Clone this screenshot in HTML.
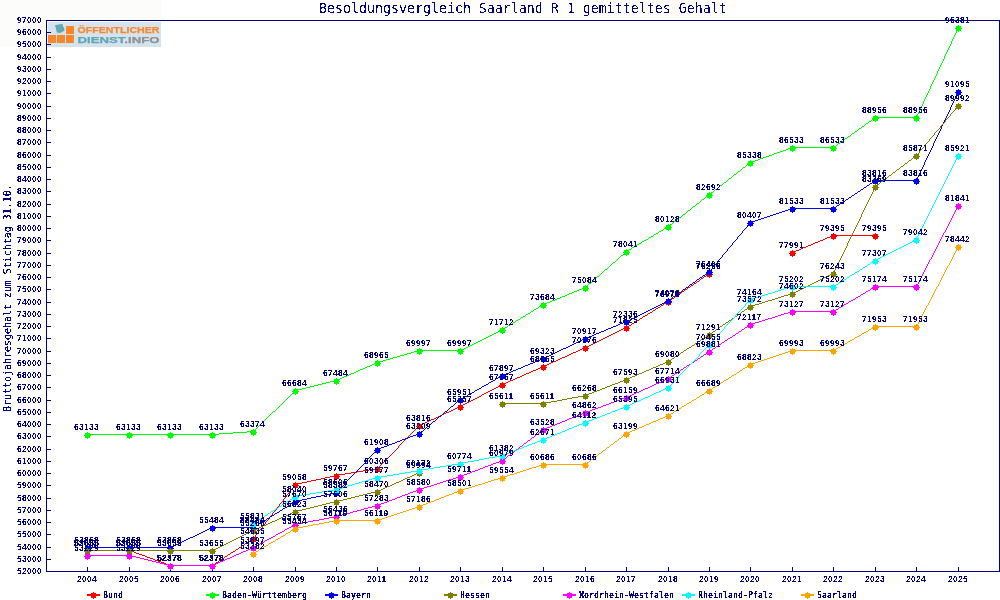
<!DOCTYPE html>
<html lang="de"><head><meta charset="utf-8"><title>Besoldungsvergleich Saarland R 1 gemitteltes Gehalt</title>
<style>html,body{margin:0;padding:0;background:#fff;overflow:hidden}svg{display:block}text{white-space:pre}</style></head><body>
<svg width="1000" height="600" viewBox="0 0 1000 600">
<rect width="1000" height="600" fill="#fff"/>
<defs><filter id="crisp" filterUnits="userSpaceOnUse" x="0" y="0" width="1000" height="600" color-interpolation-filters="sRGB"><feComponentTransfer><feFuncA type="discrete" tableValues="0 1"/></feComponentTransfer></filter><filter id="crisp3" filterUnits="userSpaceOnUse" x="0" y="0" width="1000" height="600" color-interpolation-filters="sRGB"><feComponentTransfer><feFuncA type="discrete" tableValues="0 0 0 1 1"/></feComponentTransfer></filter><filter id="crisp2" filterUnits="userSpaceOnUse" x="0" y="0" width="1000" height="600" color-interpolation-filters="sRGB"><feComponentTransfer><feFuncA type="discrete" tableValues="0 0 1 1 1"/></feComponentTransfer></filter></defs>
<g id="logo">
<rect x="0" y="0" width="161" height="47" fill="#fcfcfb"/>
<rect x="48" y="22" width="113" height="25" fill="#d5e3ec"/>
<g fill="#fb862a"><rect x="48" y="35" width="8" height="8"/><rect x="57" y="35" width="8" height="8"/><rect x="66" y="35" width="8" height="8"/><rect x="66" y="26" width="8" height="8"/></g>
<path d="M54.9 25.2L62.5 23.7L63.1 26.9L64 27.2L64.6 30.6L60.3 32.9L56.8 32.4L55.8 27.8z" fill="#62a8b2"/>
<text x="77.5" y="33.4" font-family='"Liberation Sans","DejaVu Sans",sans-serif' font-weight="bold" font-size="9.9" fill="#fb862a" stroke="#fb862a" stroke-width="0.25" textLength="82" lengthAdjust="spacingAndGlyphs">ÖFFENTLICHER</text>
<text x="77.5" y="43.2" font-family='"Liberation Sans","DejaVu Sans",sans-serif' font-weight="bold" font-size="9.9" stroke-width="0.25" textLength="82" lengthAdjust="spacingAndGlyphs"><tspan fill="#62a6b2" stroke="#62a6b2">DIENST</tspan><tspan fill="#8e9097" stroke="#8e9097">.INFO</tspan></text>
</g>
<g shape-rendering="crispEdges" fill="#000080">
<rect x="46" y="20" width="954" height="1"/>
<rect x="46" y="571" width="954" height="1"/>
<rect x="46" y="20" width="1" height="552"/>
<rect x="999" y="20" width="1" height="552"/>
<rect x="47" y="571" width="4" height="1"/>
<rect x="47" y="559" width="4" height="1"/>
<rect x="47" y="547" width="4" height="1"/>
<rect x="47" y="534" width="4" height="1"/>
<rect x="47" y="522" width="4" height="1"/>
<rect x="47" y="510" width="4" height="1"/>
<rect x="47" y="498" width="4" height="1"/>
<rect x="47" y="485" width="4" height="1"/>
<rect x="47" y="473" width="4" height="1"/>
<rect x="47" y="461" width="4" height="1"/>
<rect x="47" y="449" width="4" height="1"/>
<rect x="47" y="436" width="4" height="1"/>
<rect x="47" y="424" width="4" height="1"/>
<rect x="47" y="412" width="4" height="1"/>
<rect x="47" y="400" width="4" height="1"/>
<rect x="47" y="387" width="4" height="1"/>
<rect x="47" y="375" width="4" height="1"/>
<rect x="47" y="363" width="4" height="1"/>
<rect x="47" y="351" width="4" height="1"/>
<rect x="47" y="338" width="4" height="1"/>
<rect x="47" y="326" width="4" height="1"/>
<rect x="47" y="314" width="4" height="1"/>
<rect x="47" y="302" width="4" height="1"/>
<rect x="47" y="289" width="4" height="1"/>
<rect x="47" y="277" width="4" height="1"/>
<rect x="47" y="265" width="4" height="1"/>
<rect x="47" y="253" width="4" height="1"/>
<rect x="47" y="240" width="4" height="1"/>
<rect x="47" y="228" width="4" height="1"/>
<rect x="47" y="216" width="4" height="1"/>
<rect x="47" y="204" width="4" height="1"/>
<rect x="47" y="191" width="4" height="1"/>
<rect x="47" y="179" width="4" height="1"/>
<rect x="47" y="167" width="4" height="1"/>
<rect x="47" y="155" width="4" height="1"/>
<rect x="47" y="142" width="4" height="1"/>
<rect x="47" y="130" width="4" height="1"/>
<rect x="47" y="118" width="4" height="1"/>
<rect x="47" y="106" width="4" height="1"/>
<rect x="47" y="93" width="4" height="1"/>
<rect x="47" y="81" width="4" height="1"/>
<rect x="47" y="69" width="4" height="1"/>
<rect x="47" y="57" width="4" height="1"/>
<rect x="47" y="44" width="4" height="1"/>
<rect x="47" y="32" width="4" height="1"/>
<rect x="47" y="20" width="4" height="1"/>
<rect x="87" y="567" width="1" height="4"/>
<rect x="129" y="567" width="1" height="4"/>
<rect x="170" y="567" width="1" height="4"/>
<rect x="212" y="567" width="1" height="4"/>
<rect x="253" y="567" width="1" height="4"/>
<rect x="295" y="567" width="1" height="4"/>
<rect x="336" y="567" width="1" height="4"/>
<rect x="377" y="567" width="1" height="4"/>
<rect x="419" y="567" width="1" height="4"/>
<rect x="460" y="567" width="1" height="4"/>
<rect x="502" y="567" width="1" height="4"/>
<rect x="543" y="567" width="1" height="4"/>
<rect x="585" y="567" width="1" height="4"/>
<rect x="626" y="567" width="1" height="4"/>
<rect x="668" y="567" width="1" height="4"/>
<rect x="709" y="567" width="1" height="4"/>
<rect x="750" y="567" width="1" height="4"/>
<rect x="792" y="567" width="1" height="4"/>
<rect x="833" y="567" width="1" height="4"/>
<rect x="875" y="567" width="1" height="4"/>
<rect x="916" y="567" width="1" height="4"/>
<rect x="958" y="567" width="1" height="4"/>
</g>
<g id="ylabels" filter="url(#crisp)">
<text transform="translate(17 574) scale(1 1)" font-family='"Liberation Sans","DejaVu Sans",sans-serif' font-size="8.4" font-weight="bold" fill="#000080" letter-spacing="0.33">52000</text>
<text transform="translate(17 562) scale(1 1)" font-family='"Liberation Sans","DejaVu Sans",sans-serif' font-size="8.4" font-weight="bold" fill="#000080" letter-spacing="0.33">53000</text>
<text transform="translate(17 550) scale(1 1)" font-family='"Liberation Sans","DejaVu Sans",sans-serif' font-size="8.4" font-weight="bold" fill="#000080" letter-spacing="0.33">54000</text>
<text transform="translate(17 537) scale(1 1)" font-family='"Liberation Sans","DejaVu Sans",sans-serif' font-size="8.4" font-weight="bold" fill="#000080" letter-spacing="0.33">55000</text>
<text transform="translate(17 525) scale(1 1)" font-family='"Liberation Sans","DejaVu Sans",sans-serif' font-size="8.4" font-weight="bold" fill="#000080" letter-spacing="0.33">56000</text>
<text transform="translate(17 513) scale(1 1)" font-family='"Liberation Sans","DejaVu Sans",sans-serif' font-size="8.4" font-weight="bold" fill="#000080" letter-spacing="0.33">57000</text>
<text transform="translate(17 501) scale(1 1)" font-family='"Liberation Sans","DejaVu Sans",sans-serif' font-size="8.4" font-weight="bold" fill="#000080" letter-spacing="0.33">58000</text>
<text transform="translate(17 488) scale(1 1)" font-family='"Liberation Sans","DejaVu Sans",sans-serif' font-size="8.4" font-weight="bold" fill="#000080" letter-spacing="0.33">59000</text>
<text transform="translate(17 476) scale(1 1)" font-family='"Liberation Sans","DejaVu Sans",sans-serif' font-size="8.4" font-weight="bold" fill="#000080" letter-spacing="0.33">60000</text>
<text transform="translate(17 464) scale(1 1)" font-family='"Liberation Sans","DejaVu Sans",sans-serif' font-size="8.4" font-weight="bold" fill="#000080" letter-spacing="0.33">61000</text>
<text transform="translate(17 452) scale(1 1)" font-family='"Liberation Sans","DejaVu Sans",sans-serif' font-size="8.4" font-weight="bold" fill="#000080" letter-spacing="0.33">62000</text>
<text transform="translate(17 439) scale(1 1)" font-family='"Liberation Sans","DejaVu Sans",sans-serif' font-size="8.4" font-weight="bold" fill="#000080" letter-spacing="0.33">63000</text>
<text transform="translate(17 427) scale(1 1)" font-family='"Liberation Sans","DejaVu Sans",sans-serif' font-size="8.4" font-weight="bold" fill="#000080" letter-spacing="0.33">64000</text>
<text transform="translate(17 415) scale(1 1)" font-family='"Liberation Sans","DejaVu Sans",sans-serif' font-size="8.4" font-weight="bold" fill="#000080" letter-spacing="0.33">65000</text>
<text transform="translate(17 403) scale(1 1)" font-family='"Liberation Sans","DejaVu Sans",sans-serif' font-size="8.4" font-weight="bold" fill="#000080" letter-spacing="0.33">66000</text>
<text transform="translate(17 390) scale(1 1)" font-family='"Liberation Sans","DejaVu Sans",sans-serif' font-size="8.4" font-weight="bold" fill="#000080" letter-spacing="0.33">67000</text>
<text transform="translate(17 378) scale(1 1)" font-family='"Liberation Sans","DejaVu Sans",sans-serif' font-size="8.4" font-weight="bold" fill="#000080" letter-spacing="0.33">68000</text>
<text transform="translate(17 366) scale(1 1)" font-family='"Liberation Sans","DejaVu Sans",sans-serif' font-size="8.4" font-weight="bold" fill="#000080" letter-spacing="0.33">69000</text>
<text transform="translate(17 354) scale(1 1)" font-family='"Liberation Sans","DejaVu Sans",sans-serif' font-size="8.4" font-weight="bold" fill="#000080" letter-spacing="0.33">70000</text>
<text transform="translate(17 341) scale(1 1)" font-family='"Liberation Sans","DejaVu Sans",sans-serif' font-size="8.4" font-weight="bold" fill="#000080" letter-spacing="0.33">71000</text>
<text transform="translate(17 329) scale(1 1)" font-family='"Liberation Sans","DejaVu Sans",sans-serif' font-size="8.4" font-weight="bold" fill="#000080" letter-spacing="0.33">72000</text>
<text transform="translate(17 317) scale(1 1)" font-family='"Liberation Sans","DejaVu Sans",sans-serif' font-size="8.4" font-weight="bold" fill="#000080" letter-spacing="0.33">73000</text>
<text transform="translate(17 305) scale(1 1)" font-family='"Liberation Sans","DejaVu Sans",sans-serif' font-size="8.4" font-weight="bold" fill="#000080" letter-spacing="0.33">74000</text>
<text transform="translate(17 292) scale(1 1)" font-family='"Liberation Sans","DejaVu Sans",sans-serif' font-size="8.4" font-weight="bold" fill="#000080" letter-spacing="0.33">75000</text>
<text transform="translate(17 280) scale(1 1)" font-family='"Liberation Sans","DejaVu Sans",sans-serif' font-size="8.4" font-weight="bold" fill="#000080" letter-spacing="0.33">76000</text>
<text transform="translate(17 268) scale(1 1)" font-family='"Liberation Sans","DejaVu Sans",sans-serif' font-size="8.4" font-weight="bold" fill="#000080" letter-spacing="0.33">77000</text>
<text transform="translate(17 256) scale(1 1)" font-family='"Liberation Sans","DejaVu Sans",sans-serif' font-size="8.4" font-weight="bold" fill="#000080" letter-spacing="0.33">78000</text>
<text transform="translate(17 243) scale(1 1)" font-family='"Liberation Sans","DejaVu Sans",sans-serif' font-size="8.4" font-weight="bold" fill="#000080" letter-spacing="0.33">79000</text>
<text transform="translate(17 231) scale(1 1)" font-family='"Liberation Sans","DejaVu Sans",sans-serif' font-size="8.4" font-weight="bold" fill="#000080" letter-spacing="0.33">80000</text>
<text transform="translate(17 219) scale(1 1)" font-family='"Liberation Sans","DejaVu Sans",sans-serif' font-size="8.4" font-weight="bold" fill="#000080" letter-spacing="0.33">81000</text>
<text transform="translate(17 207) scale(1 1)" font-family='"Liberation Sans","DejaVu Sans",sans-serif' font-size="8.4" font-weight="bold" fill="#000080" letter-spacing="0.33">82000</text>
<text transform="translate(17 194) scale(1 1)" font-family='"Liberation Sans","DejaVu Sans",sans-serif' font-size="8.4" font-weight="bold" fill="#000080" letter-spacing="0.33">83000</text>
<text transform="translate(17 182) scale(1 1)" font-family='"Liberation Sans","DejaVu Sans",sans-serif' font-size="8.4" font-weight="bold" fill="#000080" letter-spacing="0.33">84000</text>
<text transform="translate(17 170) scale(1 1)" font-family='"Liberation Sans","DejaVu Sans",sans-serif' font-size="8.4" font-weight="bold" fill="#000080" letter-spacing="0.33">85000</text>
<text transform="translate(17 158) scale(1 1)" font-family='"Liberation Sans","DejaVu Sans",sans-serif' font-size="8.4" font-weight="bold" fill="#000080" letter-spacing="0.33">86000</text>
<text transform="translate(17 145) scale(1 1)" font-family='"Liberation Sans","DejaVu Sans",sans-serif' font-size="8.4" font-weight="bold" fill="#000080" letter-spacing="0.33">87000</text>
<text transform="translate(17 133) scale(1 1)" font-family='"Liberation Sans","DejaVu Sans",sans-serif' font-size="8.4" font-weight="bold" fill="#000080" letter-spacing="0.33">88000</text>
<text transform="translate(17 121) scale(1 1)" font-family='"Liberation Sans","DejaVu Sans",sans-serif' font-size="8.4" font-weight="bold" fill="#000080" letter-spacing="0.33">89000</text>
<text transform="translate(17 109) scale(1 1)" font-family='"Liberation Sans","DejaVu Sans",sans-serif' font-size="8.4" font-weight="bold" fill="#000080" letter-spacing="0.33">90000</text>
<text transform="translate(17 96) scale(1 1)" font-family='"Liberation Sans","DejaVu Sans",sans-serif' font-size="8.4" font-weight="bold" fill="#000080" letter-spacing="0.33">91000</text>
<text transform="translate(17 84) scale(1 1)" font-family='"Liberation Sans","DejaVu Sans",sans-serif' font-size="8.4" font-weight="bold" fill="#000080" letter-spacing="0.33">92000</text>
<text transform="translate(17 72) scale(1 1)" font-family='"Liberation Sans","DejaVu Sans",sans-serif' font-size="8.4" font-weight="bold" fill="#000080" letter-spacing="0.33">93000</text>
<text transform="translate(17 60) scale(1 1)" font-family='"Liberation Sans","DejaVu Sans",sans-serif' font-size="8.4" font-weight="bold" fill="#000080" letter-spacing="0.33">94000</text>
<text transform="translate(17 47) scale(1 1)" font-family='"Liberation Sans","DejaVu Sans",sans-serif' font-size="8.4" font-weight="bold" fill="#000080" letter-spacing="0.33">95000</text>
<text transform="translate(17 35) scale(1 1)" font-family='"Liberation Sans","DejaVu Sans",sans-serif' font-size="8.4" font-weight="bold" fill="#000080" letter-spacing="0.33">96000</text>
<text transform="translate(17 23) scale(1 1)" font-family='"Liberation Sans","DejaVu Sans",sans-serif' font-size="8.4" font-weight="bold" fill="#000080" letter-spacing="0.33">97000</text>
</g><g id="xlabels" filter="url(#crisp)">
<text transform="translate(77 582) scale(1 1)" font-family='"Liberation Sans","DejaVu Sans",sans-serif' font-size="8.4" font-weight="bold" fill="#000080" letter-spacing="0.33">2004</text>
<text transform="translate(119 582) scale(1 1)" font-family='"Liberation Sans","DejaVu Sans",sans-serif' font-size="8.4" font-weight="bold" fill="#000080" letter-spacing="0.33">2005</text>
<text transform="translate(160 582) scale(1 1)" font-family='"Liberation Sans","DejaVu Sans",sans-serif' font-size="8.4" font-weight="bold" fill="#000080" letter-spacing="0.33">2006</text>
<text transform="translate(202 582) scale(1 1)" font-family='"Liberation Sans","DejaVu Sans",sans-serif' font-size="8.4" font-weight="bold" fill="#000080" letter-spacing="0.33">2007</text>
<text transform="translate(243 582) scale(1 1)" font-family='"Liberation Sans","DejaVu Sans",sans-serif' font-size="8.4" font-weight="bold" fill="#000080" letter-spacing="0.33">2008</text>
<text transform="translate(285 582) scale(1 1)" font-family='"Liberation Sans","DejaVu Sans",sans-serif' font-size="8.4" font-weight="bold" fill="#000080" letter-spacing="0.33">2009</text>
<text transform="translate(326 582) scale(1 1)" font-family='"Liberation Sans","DejaVu Sans",sans-serif' font-size="8.4" font-weight="bold" fill="#000080" letter-spacing="0.33">2010</text>
<text transform="translate(367 582) scale(1 1)" font-family='"Liberation Sans","DejaVu Sans",sans-serif' font-size="8.4" font-weight="bold" fill="#000080" letter-spacing="0.33">2011</text>
<text transform="translate(409 582) scale(1 1)" font-family='"Liberation Sans","DejaVu Sans",sans-serif' font-size="8.4" font-weight="bold" fill="#000080" letter-spacing="0.33">2012</text>
<text transform="translate(450 582) scale(1 1)" font-family='"Liberation Sans","DejaVu Sans",sans-serif' font-size="8.4" font-weight="bold" fill="#000080" letter-spacing="0.33">2013</text>
<text transform="translate(492 582) scale(1 1)" font-family='"Liberation Sans","DejaVu Sans",sans-serif' font-size="8.4" font-weight="bold" fill="#000080" letter-spacing="0.33">2014</text>
<text transform="translate(533 582) scale(1 1)" font-family='"Liberation Sans","DejaVu Sans",sans-serif' font-size="8.4" font-weight="bold" fill="#000080" letter-spacing="0.33">2015</text>
<text transform="translate(575 582) scale(1 1)" font-family='"Liberation Sans","DejaVu Sans",sans-serif' font-size="8.4" font-weight="bold" fill="#000080" letter-spacing="0.33">2016</text>
<text transform="translate(616 582) scale(1 1)" font-family='"Liberation Sans","DejaVu Sans",sans-serif' font-size="8.4" font-weight="bold" fill="#000080" letter-spacing="0.33">2017</text>
<text transform="translate(658 582) scale(1 1)" font-family='"Liberation Sans","DejaVu Sans",sans-serif' font-size="8.4" font-weight="bold" fill="#000080" letter-spacing="0.33">2018</text>
<text transform="translate(699 582) scale(1 1)" font-family='"Liberation Sans","DejaVu Sans",sans-serif' font-size="8.4" font-weight="bold" fill="#000080" letter-spacing="0.33">2019</text>
<text transform="translate(740 582) scale(1 1)" font-family='"Liberation Sans","DejaVu Sans",sans-serif' font-size="8.4" font-weight="bold" fill="#000080" letter-spacing="0.33">2020</text>
<text transform="translate(782 582) scale(1 1)" font-family='"Liberation Sans","DejaVu Sans",sans-serif' font-size="8.4" font-weight="bold" fill="#000080" letter-spacing="0.33">2021</text>
<text transform="translate(823 582) scale(1 1)" font-family='"Liberation Sans","DejaVu Sans",sans-serif' font-size="8.4" font-weight="bold" fill="#000080" letter-spacing="0.33">2022</text>
<text transform="translate(865 582) scale(1 1)" font-family='"Liberation Sans","DejaVu Sans",sans-serif' font-size="8.4" font-weight="bold" fill="#000080" letter-spacing="0.33">2023</text>
<text transform="translate(906 582) scale(1 1)" font-family='"Liberation Sans","DejaVu Sans",sans-serif' font-size="8.4" font-weight="bold" fill="#000080" letter-spacing="0.33">2024</text>
<text transform="translate(948 582) scale(1 1)" font-family='"Liberation Sans","DejaVu Sans",sans-serif' font-size="8.4" font-weight="bold" fill="#000080" letter-spacing="0.33">2025</text>
</g>
<g id="titles" filter="url(#crisp)">
<text transform="translate(319 13) scale(0.97 1)" font-family='"DejaVu Sans Mono","Liberation Mono",monospace' font-size="13.7" font-weight="normal" fill="#000080">Besoldungsvergleich Saarland R 1 gemitteltes Gehalt</text>
</g>
<g id="ytitle" filter="url(#crisp2)">
<text transform="translate(11 412) rotate(-90) scale(0.908 1)" font-family='"DejaVu Sans Mono","Liberation Mono",monospace' font-size="10.97" font-weight="normal" fill="#000080">Bruttojahresgehalt zum Stichtag 31.10.</text>
</g>
<g id="s-Bun">
<path d="M87 550.5h43M129 550.5h2M131 551.5h3M134 552.5h2M136 553.5h3M139 554.5h3M142 555.5h3M145 556.5h2M147 557.5h3M150 558.5h3M153 559.5h2M155 560.5h3M158 561.5h3M161 562.5h3M164 563.5h2M166 564.5h3M169 565.5h2M170 565.5h43M212 565.5h1M213 564.5h2M215 563.5h1M216 562.5h2M218 561.5h1M219 560.5h2M221 559.5h1M222 558.5h2M224 557.5h1M225 556.5h2M227 555.5h1M228 554.5h2M230 553.5h1M231 552.5h2M233 551.5h2M235 550.5h1M236 549.5h2M238 548.5h1M239 547.5h2M241 546.5h1M242 545.5h2M244 544.5h1M245 543.5h2M247 542.5h1M248 541.5h2M250 540.5h1M251 539.5h2M253 538.5h1M253.5 538v1M254.5 537v1M255.5 535v2M256.5 534v1M257.5 533v1M258.5 531v2M259.5 530v1M260.5 529v1M261.5 528v1M262.5 526v2M263.5 525v1M264.5 524v1M265.5 522v2M266.5 521v1M267.5 520v1M268.5 519v1M269.5 517v2M270.5 516v1M271.5 515v1M272.5 513v2M273.5 512v1M274.5 511v1M275.5 510v1M276.5 508v2M277.5 507v1M278.5 506v1M279.5 504v2M280.5 503v1M281.5 502v1M282.5 501v1M283.5 499v2M284.5 498v1M285.5 497v1M286.5 495v2M287.5 494v1M288.5 493v1M289.5 492v1M290.5 490v2M291.5 489v1M292.5 488v1M293.5 486v2M294.5 485v1M295.5 484v1M295 484.5h3M298 483.5h4M302 482.5h5M307 481.5h4M311 480.5h5M316 479.5h5M321 478.5h4M325 477.5h5M330 476.5h4M334 475.5h3M336 475.5h3M339 474.5h6M345 473.5h6M351 472.5h6M357 471.5h6M363 470.5h6M369 469.5h6M375 468.5h3M377.5 468v1M378.5 467v1M379.5 466v1M380.5 465v1M381.5 464v1M382.5 463v1M383.5 462v1M384.5 461v1M385.5 460v1M386.5 459v1M387.5 458v1M388.5 457v1M389.5 456v1M390.5 455v1M391.5 454v1M392.5 453v1M393.5 452v1M394.5 451v1M395.5 450v1M396.5 449v1M397.5 448v1M398.5 446v2M399.5 445v1M400.5 444v1M401.5 443v1M402.5 442v1M403.5 441v1M404.5 440v1M405.5 439v1M406.5 438v1M407.5 437v1M408.5 436v1M409.5 435v1M410.5 434v1M411.5 433v1M412.5 432v1M413.5 431v1M414.5 430v1M415.5 429v1M416.5 428v1M417.5 427v1M418.5 426v1M419.5 425v1M419 425.5h2M421 424.5h2M423 423.5h2M425 422.5h2M427 421.5h2M429 420.5h2M431 419.5h3M434 418.5h2M436 417.5h2M438 416.5h2M440 415.5h2M442 414.5h2M444 413.5h2M446 412.5h3M449 411.5h2M451 410.5h2M453 409.5h2M455 408.5h2M457 407.5h2M459 406.5h2M460 406.5h1M461 405.5h2M463 404.5h2M465 403.5h2M467 402.5h2M469 401.5h2M471 400.5h2M473 399.5h2M475 398.5h2M477 397.5h2M479 396.5h2M481 395.5h1M482 394.5h2M484 393.5h2M486 392.5h2M488 391.5h2M490 390.5h2M492 389.5h2M494 388.5h2M496 387.5h2M498 386.5h2M500 385.5h2M502 384.5h1M502 384.5h2M504 383.5h2M506 382.5h2M508 381.5h2M510 380.5h3M513 379.5h2M515 378.5h2M517 377.5h3M520 376.5h2M522 375.5h2M524 374.5h2M526 373.5h3M529 372.5h2M531 371.5h2M533 370.5h3M536 369.5h2M538 368.5h2M540 367.5h2M542 366.5h2M543 366.5h2M545 365.5h2M547 364.5h2M549 363.5h2M551 362.5h2M553 361.5h3M556 360.5h2M558 359.5h2M560 358.5h2M562 357.5h3M565 356.5h2M567 355.5h2M569 354.5h2M571 353.5h2M573 352.5h3M576 351.5h2M578 350.5h2M580 349.5h2M582 348.5h2M584 347.5h2M585 347.5h2M587 346.5h2M589 345.5h2M591 344.5h2M593 343.5h2M595 342.5h2M597 341.5h2M599 340.5h2M601 339.5h2M603 338.5h2M605 337.5h2M607 336.5h2M609 335.5h2M611 334.5h2M613 333.5h2M615 332.5h2M617 331.5h2M619 330.5h2M621 329.5h2M623 328.5h2M625 327.5h2M626 327.5h1M627 326.5h2M629 325.5h2M631 324.5h1M632 323.5h2M634 322.5h1M635 321.5h2M637 320.5h2M639 319.5h1M640 318.5h2M642 317.5h1M643 316.5h2M645 315.5h2M647 314.5h1M648 313.5h2M650 312.5h2M652 311.5h1M653 310.5h2M655 309.5h1M656 308.5h2M658 307.5h2M660 306.5h1M661 305.5h2M663 304.5h1M664 303.5h2M666 302.5h2M668 301.5h1M668 301.5h1M669 300.5h2M671 299.5h1M672 298.5h2M674 297.5h1M675 296.5h2M677 295.5h1M678 294.5h1M679 293.5h2M681 292.5h1M682 291.5h2M684 290.5h1M685 289.5h2M687 288.5h1M688 287.5h2M690 286.5h1M691 285.5h2M693 284.5h1M694 283.5h2M696 282.5h1M697 281.5h2M699 280.5h1M700 279.5h1M701 278.5h2M703 277.5h1M704 276.5h2M706 275.5h1M707 274.5h2M709 273.5h1M792 252.5h2M794 251.5h2M796 250.5h3M799 249.5h2M801 248.5h2M803 247.5h3M806 246.5h2M808 245.5h3M811 244.5h2M813 243.5h2M815 242.5h3M818 241.5h2M820 240.5h3M823 239.5h2M825 238.5h2M827 237.5h3M830 236.5h2M832 235.5h2M833 235.5h43" fill="none" stroke="#ff0000" stroke-width="1" shape-rendering="crispEdges"/>
<g shape-rendering="crispEdges">
<path fill="#ff0000" d="M85 549h2v-1h1v1h2v2h1v1h-1v2h-2v1h-1v-1h-2v-2h-1v-1h1z"/>
<path fill="#ff0000" d="M127 549h2v-1h1v1h2v2h1v1h-1v2h-2v1h-1v-1h-2v-2h-1v-1h1z"/>
<path fill="#ff0000" d="M168 564h2v-1h1v1h2v2h1v1h-1v2h-2v1h-1v-1h-2v-2h-1v-1h1z"/>
<path fill="#ff0000" d="M210 564h2v-1h1v1h2v2h1v1h-1v2h-2v1h-1v-1h-2v-2h-1v-1h1z"/>
<path fill="#ff0000" d="M251 537h2v-1h1v1h2v2h1v1h-1v2h-2v1h-1v-1h-2v-2h-1v-1h1z"/>
<path fill="#ff0000" d="M293 483h2v-1h1v1h2v2h1v1h-1v2h-2v1h-1v-1h-2v-2h-1v-1h1z"/>
<path fill="#ff0000" d="M334 474h2v-1h1v1h2v2h1v1h-1v2h-2v1h-1v-1h-2v-2h-1v-1h1z"/>
<path fill="#ff0000" d="M375 467h2v-1h1v1h2v2h1v1h-1v2h-2v1h-1v-1h-2v-2h-1v-1h1z"/>
<path fill="#ff0000" d="M417 424h2v-1h1v1h2v2h1v1h-1v2h-2v1h-1v-1h-2v-2h-1v-1h1z"/>
<path fill="#ff0000" d="M458 405h2v-1h1v1h2v2h1v1h-1v2h-2v1h-1v-1h-2v-2h-1v-1h1z"/>
<path fill="#ff0000" d="M500 383h2v-1h1v1h2v2h1v1h-1v2h-2v1h-1v-1h-2v-2h-1v-1h1z"/>
<path fill="#ff0000" d="M541 365h2v-1h1v1h2v2h1v1h-1v2h-2v1h-1v-1h-2v-2h-1v-1h1z"/>
<path fill="#ff0000" d="M583 346h2v-1h1v1h2v2h1v1h-1v2h-2v1h-1v-1h-2v-2h-1v-1h1z"/>
<path fill="#ff0000" d="M624 326h2v-1h1v1h2v2h1v1h-1v2h-2v1h-1v-1h-2v-2h-1v-1h1z"/>
<path fill="#ff0000" d="M666 300h2v-1h1v1h2v2h1v1h-1v2h-2v1h-1v-1h-2v-2h-1v-1h1z"/>
<path fill="#ff0000" d="M707 272h2v-1h1v1h2v2h1v1h-1v2h-2v1h-1v-1h-2v-2h-1v-1h1z"/>
<path fill="#ff0000" d="M790 251h2v-1h1v1h2v2h1v1h-1v2h-2v1h-1v-1h-2v-2h-1v-1h1z"/>
<path fill="#ff0000" d="M831 234h2v-1h1v1h2v2h1v1h-1v2h-2v1h-1v-1h-2v-2h-1v-1h1z"/>
<path fill="#ff0000" d="M873 234h2v-1h1v1h2v2h1v1h-1v2h-2v1h-1v-1h-2v-2h-1v-1h1z"/>
</g>
</g>
<g id="s-Bad">
<path d="M87 434.5h43M129 434.5h42M170 434.5h43M212 434.5h7M219 433.5h14M233 432.5h14M247 431.5h7M253 431.5h1M254 430.5h1M255 429.5h1M256 428.5h1M257 427.5h1M258 426.5h1M259 425.5h1M260 424.5h1M261 423.5h1M262 422.5h1M263 421.5h1M264 420.5h1M265 419.5h1M266 418.5h1M267 417.5h1M268 416.5h1M269 415.5h1M270 414.5h1M271 413.5h1M272 412.5h1M273 411.5h2M275 410.5h1M276 409.5h1M277 408.5h1M278 407.5h1M279 406.5h1M280 405.5h1M281 404.5h1M282 403.5h1M283 402.5h1M284 401.5h1M285 400.5h1M286 399.5h1M287 398.5h1M288 397.5h1M289 396.5h1M290 395.5h1M291 394.5h1M292 393.5h1M293 392.5h1M294 391.5h1M295 390.5h1M295 390.5h3M298 389.5h4M302 388.5h4M306 387.5h4M310 386.5h4M314 385.5h4M318 384.5h4M322 383.5h4M326 382.5h4M330 381.5h4M334 380.5h3M336 380.5h2M338 379.5h2M340 378.5h2M342 377.5h2M344 376.5h3M347 375.5h2M349 374.5h2M351 373.5h3M354 372.5h2M356 371.5h2M358 370.5h2M360 369.5h3M363 368.5h2M365 367.5h2M367 366.5h3M370 365.5h2M372 364.5h2M374 363.5h2M376 362.5h2M377 362.5h2M379 361.5h4M383 360.5h3M386 359.5h4M390 358.5h3M393 357.5h4M397 356.5h3M400 355.5h4M404 354.5h3M407 353.5h4M411 352.5h3M414 351.5h4M418 350.5h2M419 350.5h42M460 350.5h2M462 349.5h2M464 348.5h2M466 347.5h2M468 346.5h2M470 345.5h2M472 344.5h2M474 343.5h2M476 342.5h2M478 341.5h2M480 340.5h2M482 339.5h2M484 338.5h2M486 337.5h2M488 336.5h2M490 335.5h2M492 334.5h2M494 333.5h2M496 332.5h2M498 331.5h2M500 330.5h2M502 329.5h1M502 329.5h1M503 328.5h2M505 327.5h2M507 326.5h1M508 325.5h2M510 324.5h2M512 323.5h1M513 322.5h2M515 321.5h1M516 320.5h2M518 319.5h2M520 318.5h1M521 317.5h2M523 316.5h2M525 315.5h1M526 314.5h2M528 313.5h2M530 312.5h1M531 311.5h2M533 310.5h1M534 309.5h2M536 308.5h2M538 307.5h1M539 306.5h2M541 305.5h2M543 304.5h1M543 304.5h2M545 303.5h2M547 302.5h3M550 301.5h2M552 300.5h3M555 299.5h2M557 298.5h3M560 297.5h2M562 296.5h3M565 295.5h2M567 294.5h2M569 293.5h3M572 292.5h2M574 291.5h3M577 290.5h2M579 289.5h3M582 288.5h2M584 287.5h2M585 287.5h1M586 286.5h1M587 285.5h1M588 284.5h1M589 283.5h2M591 282.5h1M592 281.5h1M593 280.5h1M594 279.5h1M595 278.5h1M596 277.5h1M597 276.5h2M599 275.5h1M600 274.5h1M601 273.5h1M602 272.5h1M603 271.5h1M604 270.5h1M605 269.5h2M607 268.5h1M608 267.5h1M609 266.5h1M610 265.5h1M611 264.5h1M612 263.5h1M613 262.5h2M615 261.5h1M616 260.5h1M617 259.5h1M618 258.5h1M619 257.5h1M620 256.5h1M621 255.5h2M623 254.5h1M624 253.5h1M625 252.5h1M626 251.5h1M626 251.5h1M627 250.5h2M629 249.5h2M631 248.5h1M632 247.5h2M634 246.5h2M636 245.5h1M637 244.5h2M639 243.5h2M641 242.5h1M642 241.5h2M644 240.5h2M646 239.5h2M648 238.5h1M649 237.5h2M651 236.5h2M653 235.5h1M654 234.5h2M656 233.5h2M658 232.5h1M659 231.5h2M661 230.5h2M663 229.5h1M664 228.5h2M666 227.5h2M668 226.5h1M668 226.5h1M669 225.5h1M670 224.5h2M672 223.5h1M673 222.5h1M674 221.5h2M676 220.5h1M677 219.5h1M678 218.5h1M679 217.5h2M681 216.5h1M682 215.5h1M683 214.5h2M685 213.5h1M686 212.5h1M687 211.5h1M688 210.5h2M690 209.5h1M691 208.5h1M692 207.5h1M693 206.5h2M695 205.5h1M696 204.5h1M697 203.5h2M699 202.5h1M700 201.5h1M701 200.5h1M702 199.5h2M704 198.5h1M705 197.5h1M706 196.5h2M708 195.5h1M709 194.5h1M709 194.5h1M710 193.5h1M711 192.5h2M713 191.5h1M714 190.5h1M715 189.5h2M717 188.5h1M718 187.5h1M719 186.5h1M720 185.5h2M722 184.5h1M723 183.5h1M724 182.5h2M726 181.5h1M727 180.5h1M728 179.5h1M729 178.5h2M731 177.5h1M732 176.5h1M733 175.5h1M734 174.5h2M736 173.5h1M737 172.5h1M738 171.5h2M740 170.5h1M741 169.5h1M742 168.5h1M743 167.5h2M745 166.5h1M746 165.5h1M747 164.5h2M749 163.5h1M750 162.5h1M750 162.5h2M752 161.5h3M755 160.5h3M758 159.5h2M760 158.5h3M763 157.5h3M766 156.5h3M769 155.5h3M772 154.5h2M774 153.5h3M777 152.5h3M780 151.5h3M783 150.5h3M786 149.5h2M788 148.5h3M791 147.5h2M792 147.5h42M833 147.5h1M834 146.5h2M836 145.5h1M837 144.5h1M838 143.5h2M840 142.5h1M841 141.5h2M843 140.5h1M844 139.5h1M845 138.5h2M847 137.5h1M848 136.5h2M850 135.5h1M851 134.5h1M852 133.5h2M854 132.5h1M855 131.5h2M857 130.5h1M858 129.5h1M859 128.5h2M861 127.5h1M862 126.5h2M864 125.5h1M865 124.5h1M866 123.5h2M868 122.5h1M869 121.5h2M871 120.5h1M872 119.5h1M873 118.5h2M875 117.5h1M875 117.5h42M916.5 116v2M917.5 114v2M918.5 112v2M919.5 110v2M920.5 108v2M921.5 106v2M922.5 104v2M923.5 101v3M924.5 99v2M925.5 97v2M926.5 95v2M927.5 93v2M928.5 91v2M929.5 89v2M930.5 86v3M931.5 84v2M932.5 82v2M933.5 80v2M934.5 78v2M935.5 76v2M936.5 74v2M937.5 71v3M938.5 69v2M939.5 67v2M940.5 65v2M941.5 63v2M942.5 61v2M943.5 59v2M944.5 56v3M945.5 54v2M946.5 52v2M947.5 50v2M948.5 48v2M949.5 46v2M950.5 44v2M951.5 41v3M952.5 39v2M953.5 37v2M954.5 35v2M955.5 33v2M956.5 31v2M957.5 29v2M958.5 27v2" fill="none" stroke="#00ff00" stroke-width="1" shape-rendering="crispEdges"/>
<g shape-rendering="crispEdges">
<path fill="#00ff00" d="M85 433h2v-1h1v1h2v2h1v1h-1v2h-2v1h-1v-1h-2v-2h-1v-1h1z"/>
<path fill="#00ff00" d="M127 433h2v-1h1v1h2v2h1v1h-1v2h-2v1h-1v-1h-2v-2h-1v-1h1z"/>
<path fill="#00ff00" d="M168 433h2v-1h1v1h2v2h1v1h-1v2h-2v1h-1v-1h-2v-2h-1v-1h1z"/>
<path fill="#00ff00" d="M210 433h2v-1h1v1h2v2h1v1h-1v2h-2v1h-1v-1h-2v-2h-1v-1h1z"/>
<path fill="#00ff00" d="M251 430h2v-1h1v1h2v2h1v1h-1v2h-2v1h-1v-1h-2v-2h-1v-1h1z"/>
<path fill="#00ff00" d="M293 389h2v-1h1v1h2v2h1v1h-1v2h-2v1h-1v-1h-2v-2h-1v-1h1z"/>
<path fill="#00ff00" d="M334 379h2v-1h1v1h2v2h1v1h-1v2h-2v1h-1v-1h-2v-2h-1v-1h1z"/>
<path fill="#00ff00" d="M375 361h2v-1h1v1h2v2h1v1h-1v2h-2v1h-1v-1h-2v-2h-1v-1h1z"/>
<path fill="#00ff00" d="M417 349h2v-1h1v1h2v2h1v1h-1v2h-2v1h-1v-1h-2v-2h-1v-1h1z"/>
<path fill="#00ff00" d="M458 349h2v-1h1v1h2v2h1v1h-1v2h-2v1h-1v-1h-2v-2h-1v-1h1z"/>
<path fill="#00ff00" d="M500 328h2v-1h1v1h2v2h1v1h-1v2h-2v1h-1v-1h-2v-2h-1v-1h1z"/>
<path fill="#00ff00" d="M541 303h2v-1h1v1h2v2h1v1h-1v2h-2v1h-1v-1h-2v-2h-1v-1h1z"/>
<path fill="#00ff00" d="M583 286h2v-1h1v1h2v2h1v1h-1v2h-2v1h-1v-1h-2v-2h-1v-1h1z"/>
<path fill="#00ff00" d="M624 250h2v-1h1v1h2v2h1v1h-1v2h-2v1h-1v-1h-2v-2h-1v-1h1z"/>
<path fill="#00ff00" d="M666 225h2v-1h1v1h2v2h1v1h-1v2h-2v1h-1v-1h-2v-2h-1v-1h1z"/>
<path fill="#00ff00" d="M707 193h2v-1h1v1h2v2h1v1h-1v2h-2v1h-1v-1h-2v-2h-1v-1h1z"/>
<path fill="#00ff00" d="M748 161h2v-1h1v1h2v2h1v1h-1v2h-2v1h-1v-1h-2v-2h-1v-1h1z"/>
<path fill="#00ff00" d="M790 146h2v-1h1v1h2v2h1v1h-1v2h-2v1h-1v-1h-2v-2h-1v-1h1z"/>
<path fill="#00ff00" d="M831 146h2v-1h1v1h2v2h1v1h-1v2h-2v1h-1v-1h-2v-2h-1v-1h1z"/>
<path fill="#00ff00" d="M873 116h2v-1h1v1h2v2h1v1h-1v2h-2v1h-1v-1h-2v-2h-1v-1h1z"/>
<path fill="#00ff00" d="M914 116h2v-1h1v1h2v2h1v1h-1v2h-2v1h-1v-1h-2v-2h-1v-1h1z"/>
<path fill="#00ff00" d="M956 26h2v-1h1v1h2v2h1v1h-1v2h-2v1h-1v-1h-2v-2h-1v-1h1z"/>
</g>
</g>
<g id="s-Bay">
<path d="M87 547.5h43M129 547.5h42M170 547.5h2M172 546.5h2M174 545.5h2M176 544.5h2M178 543.5h2M180 542.5h2M182 541.5h2M184 540.5h2M186 539.5h2M188 538.5h2M190 537.5h3M193 536.5h2M195 535.5h2M197 534.5h2M199 533.5h2M201 532.5h2M203 531.5h2M205 530.5h2M207 529.5h2M209 528.5h2M211 527.5h2M212 527.5h42M253 527.5h1M254 526.5h2M256 525.5h2M258 524.5h1M259 523.5h2M261 522.5h1M262 521.5h2M264 520.5h2M266 519.5h1M267 518.5h2M269 517.5h1M270 516.5h2M272 515.5h2M274 514.5h1M275 513.5h2M277 512.5h2M279 511.5h1M280 510.5h2M282 509.5h1M283 508.5h2M285 507.5h2M287 506.5h1M288 505.5h2M290 504.5h1M291 503.5h2M293 502.5h2M295 501.5h1M295 501.5h3M298 500.5h4M302 499.5h5M307 498.5h4M311 497.5h5M316 496.5h5M321 495.5h4M325 494.5h5M330 493.5h4M334 492.5h3M336.5 492v1M337.5 491v1M338.5 490v1M339.5 489v1M340.5 488v1M341.5 487v1M342.5 486v1M343.5 485v1M344.5 484v1M345.5 483v1M346.5 481v2M347.5 480v1M348.5 479v1M349.5 478v1M350.5 477v1M351.5 476v1M352.5 475v1M353.5 474v1M354.5 473v1M355.5 472v1M356.5 471v1M357.5 470v1M358.5 469v1M359.5 468v1M360.5 467v1M361.5 466v1M362.5 465v1M363.5 464v1M364.5 463v1M365.5 462v1M366.5 461v1M367.5 459v2M368.5 458v1M369.5 457v1M370.5 456v1M371.5 455v1M372.5 454v1M373.5 453v1M374.5 452v1M375.5 451v1M376.5 450v1M377.5 449v1M377 449.5h2M379 448.5h2M381 447.5h3M384 446.5h3M387 445.5h2M389 444.5h3M392 443.5h3M395 442.5h2M397 441.5h3M400 440.5h2M402 439.5h3M405 438.5h3M408 437.5h2M410 436.5h3M413 435.5h3M416 434.5h2M418 433.5h2M419 433.5h1M420 432.5h1M421 431.5h2M423 430.5h1M424 429.5h1M425 428.5h1M426 427.5h1M427 426.5h2M429 425.5h1M430 424.5h1M431 423.5h1M432 422.5h1M433 421.5h2M435 420.5h1M436 419.5h1M437 418.5h1M438 417.5h1M439 416.5h2M441 415.5h1M442 414.5h1M443 413.5h1M444 412.5h1M445 411.5h2M447 410.5h1M448 409.5h1M449 408.5h1M450 407.5h1M451 406.5h2M453 405.5h1M454 404.5h1M455 403.5h1M456 402.5h1M457 401.5h2M459 400.5h1M460 399.5h1M460 399.5h1M461 398.5h2M463 397.5h2M465 396.5h2M467 395.5h1M468 394.5h2M470 393.5h2M472 392.5h2M474 391.5h1M475 390.5h2M477 389.5h2M479 388.5h2M481 387.5h1M482 386.5h2M484 385.5h2M486 384.5h2M488 383.5h1M489 382.5h2M491 381.5h2M493 380.5h2M495 379.5h1M496 378.5h2M498 377.5h2M500 376.5h2M502 375.5h1M502 375.5h2M504 374.5h2M506 373.5h3M509 372.5h2M511 371.5h2M513 370.5h3M516 369.5h2M518 368.5h3M521 367.5h2M523 366.5h2M525 365.5h3M528 364.5h2M530 363.5h3M533 362.5h2M535 361.5h2M537 360.5h3M540 359.5h2M542 358.5h2M543 358.5h2M545 357.5h2M547 356.5h2M549 355.5h2M551 354.5h2M553 353.5h2M555 352.5h2M557 351.5h2M559 350.5h2M561 349.5h2M563 348.5h3M566 347.5h2M568 346.5h2M570 345.5h2M572 344.5h2M574 343.5h2M576 342.5h2M578 341.5h2M580 340.5h2M582 339.5h2M584 338.5h2M585 338.5h2M587 337.5h2M589 336.5h3M592 335.5h2M594 334.5h2M596 333.5h3M599 332.5h2M601 331.5h3M604 330.5h2M606 329.5h2M608 328.5h3M611 327.5h2M613 326.5h3M616 325.5h2M618 324.5h2M620 323.5h3M623 322.5h2M625 321.5h2M626 321.5h2M628 320.5h2M630 319.5h2M632 318.5h2M634 317.5h2M636 316.5h2M638 315.5h2M640 314.5h2M642 313.5h2M644 312.5h2M646 311.5h2M648 310.5h2M650 309.5h2M652 308.5h2M654 307.5h2M656 306.5h2M658 305.5h2M660 304.5h2M662 303.5h2M664 302.5h2M666 301.5h2M668 300.5h1M668 300.5h1M669 299.5h2M671 298.5h1M672 297.5h1M673 296.5h2M675 295.5h1M676 294.5h2M678 293.5h1M679 292.5h2M681 291.5h1M682 290.5h1M683 289.5h2M685 288.5h1M686 287.5h2M688 286.5h1M689 285.5h1M690 284.5h2M692 283.5h1M693 282.5h2M695 281.5h1M696 280.5h1M697 279.5h2M699 278.5h1M700 277.5h2M702 276.5h1M703 275.5h2M705 274.5h1M706 273.5h1M707 272.5h2M709 271.5h1M709.5 271v1M710.5 270v1M711.5 269v1M712.5 267v2M713.5 266v1M714.5 265v1M715.5 264v1M716.5 263v1M717.5 261v2M718.5 260v1M719.5 259v1M720.5 258v1M721.5 257v1M722.5 255v2M723.5 254v1M724.5 253v1M725.5 252v1M726.5 251v1M727.5 249v2M728.5 248v1M729.5 247v1M730.5 246v1M731.5 245v1M732.5 243v2M733.5 242v1M734.5 241v1M735.5 240v1M736.5 239v1M737.5 237v2M738.5 236v1M739.5 235v1M740.5 234v1M741.5 233v1M742.5 231v2M743.5 230v1M744.5 229v1M745.5 228v1M746.5 227v1M747.5 225v2M748.5 224v1M749.5 223v1M750.5 222v1M750 222.5h2M752 221.5h3M755 220.5h3M758 219.5h3M761 218.5h3M764 217.5h3M767 216.5h3M770 215.5h3M773 214.5h3M776 213.5h3M779 212.5h3M782 211.5h3M785 210.5h3M788 209.5h3M791 208.5h2M792 208.5h42M833 208.5h1M834 207.5h2M836 206.5h1M837 205.5h2M839 204.5h1M840 203.5h2M842 202.5h1M843 201.5h2M845 200.5h1M846 199.5h2M848 198.5h1M849 197.5h2M851 196.5h1M852 195.5h2M854 194.5h1M855 193.5h2M857 192.5h1M858 191.5h2M860 190.5h1M861 189.5h2M863 188.5h1M864 187.5h2M866 186.5h1M867 185.5h2M869 184.5h1M870 183.5h2M872 182.5h1M873 181.5h2M875 180.5h1M875 180.5h42M916.5 179v2M917.5 177v2M918.5 175v2M919.5 173v2M920.5 171v2M921.5 169v2M922.5 167v2M923.5 165v2M924.5 162v3M925.5 160v2M926.5 158v2M927.5 156v2M928.5 154v2M929.5 152v2M930.5 150v2M931.5 148v2M932.5 146v2M933.5 143v3M934.5 141v2M935.5 139v2M936.5 137v2M937.5 135v2M938.5 133v2M939.5 131v2M940.5 129v2M941.5 126v3M942.5 124v2M943.5 122v2M944.5 120v2M945.5 118v2M946.5 116v2M947.5 114v2M948.5 112v2M949.5 110v2M950.5 107v3M951.5 105v2M952.5 103v2M953.5 101v2M954.5 99v2M955.5 97v2M956.5 95v2M957.5 93v2M958.5 91v2" fill="none" stroke="#0000ff" stroke-width="1" shape-rendering="crispEdges"/>
<g shape-rendering="crispEdges">
<path fill="#0000ff" d="M85 546h2v-1h1v1h2v2h1v1h-1v2h-2v1h-1v-1h-2v-2h-1v-1h1z"/>
<path fill="#0000ff" d="M127 546h2v-1h1v1h2v2h1v1h-1v2h-2v1h-1v-1h-2v-2h-1v-1h1z"/>
<path fill="#0000ff" d="M168 546h2v-1h1v1h2v2h1v1h-1v2h-2v1h-1v-1h-2v-2h-1v-1h1z"/>
<path fill="#0000ff" d="M210 526h2v-1h1v1h2v2h1v1h-1v2h-2v1h-1v-1h-2v-2h-1v-1h1z"/>
<path fill="#0000ff" d="M251 526h2v-1h1v1h2v2h1v1h-1v2h-2v1h-1v-1h-2v-2h-1v-1h1z"/>
<path fill="#0000ff" d="M293 500h2v-1h1v1h2v2h1v1h-1v2h-2v1h-1v-1h-2v-2h-1v-1h1z"/>
<path fill="#0000ff" d="M334 491h2v-1h1v1h2v2h1v1h-1v2h-2v1h-1v-1h-2v-2h-1v-1h1z"/>
<path fill="#0000ff" d="M375 448h2v-1h1v1h2v2h1v1h-1v2h-2v1h-1v-1h-2v-2h-1v-1h1z"/>
<path fill="#0000ff" d="M417 432h2v-1h1v1h2v2h1v1h-1v2h-2v1h-1v-1h-2v-2h-1v-1h1z"/>
<path fill="#0000ff" d="M458 398h2v-1h1v1h2v2h1v1h-1v2h-2v1h-1v-1h-2v-2h-1v-1h1z"/>
<path fill="#0000ff" d="M500 374h2v-1h1v1h2v2h1v1h-1v2h-2v1h-1v-1h-2v-2h-1v-1h1z"/>
<path fill="#0000ff" d="M541 357h2v-1h1v1h2v2h1v1h-1v2h-2v1h-1v-1h-2v-2h-1v-1h1z"/>
<path fill="#0000ff" d="M583 337h2v-1h1v1h2v2h1v1h-1v2h-2v1h-1v-1h-2v-2h-1v-1h1z"/>
<path fill="#0000ff" d="M624 320h2v-1h1v1h2v2h1v1h-1v2h-2v1h-1v-1h-2v-2h-1v-1h1z"/>
<path fill="#0000ff" d="M666 299h2v-1h1v1h2v2h1v1h-1v2h-2v1h-1v-1h-2v-2h-1v-1h1z"/>
<path fill="#0000ff" d="M707 270h2v-1h1v1h2v2h1v1h-1v2h-2v1h-1v-1h-2v-2h-1v-1h1z"/>
<path fill="#0000ff" d="M748 221h2v-1h1v1h2v2h1v1h-1v2h-2v1h-1v-1h-2v-2h-1v-1h1z"/>
<path fill="#0000ff" d="M790 207h2v-1h1v1h2v2h1v1h-1v2h-2v1h-1v-1h-2v-2h-1v-1h1z"/>
<path fill="#0000ff" d="M831 207h2v-1h1v1h2v2h1v1h-1v2h-2v1h-1v-1h-2v-2h-1v-1h1z"/>
<path fill="#0000ff" d="M873 179h2v-1h1v1h2v2h1v1h-1v2h-2v1h-1v-1h-2v-2h-1v-1h1z"/>
<path fill="#0000ff" d="M914 179h2v-1h1v1h2v2h1v1h-1v2h-2v1h-1v-1h-2v-2h-1v-1h1z"/>
<path fill="#0000ff" d="M956 90h2v-1h1v1h2v2h1v1h-1v2h-2v1h-1v-1h-2v-2h-1v-1h1z"/>
</g>
</g>
<g id="s-Hes">
<path d="M87 550.5h43M129 550.5h42M170 550.5h43M212 550.5h2M214 549.5h2M216 548.5h2M218 547.5h2M220 546.5h2M222 545.5h2M224 544.5h2M226 543.5h2M228 542.5h2M230 541.5h2M232 540.5h2M234 539.5h2M236 538.5h2M238 537.5h2M240 536.5h2M242 535.5h2M244 534.5h2M246 533.5h2M248 532.5h2M250 531.5h2M252 530.5h2M253 530.5h2M255 529.5h2M257 528.5h2M259 527.5h2M261 526.5h2M263 525.5h3M266 524.5h2M268 523.5h2M270 522.5h2M272 521.5h3M275 520.5h2M277 519.5h2M279 518.5h2M281 517.5h2M283 516.5h3M286 515.5h2M288 514.5h2M290 513.5h2M292 512.5h2M294 511.5h2M295 511.5h3M298 510.5h4M302 509.5h4M306 508.5h4M310 507.5h4M314 506.5h4M318 505.5h4M322 504.5h4M326 503.5h4M330 502.5h4M334 501.5h3M336 501.5h3M339 500.5h4M343 499.5h4M347 498.5h4M351 497.5h4M355 496.5h4M359 495.5h4M363 494.5h4M367 493.5h4M371 492.5h4M375 491.5h3M377 491.5h2M379 490.5h2M381 489.5h2M383 488.5h2M385 487.5h2M387 486.5h3M390 485.5h2M392 484.5h2M394 483.5h2M396 482.5h3M399 481.5h2M401 480.5h2M403 479.5h2M405 478.5h2M407 477.5h3M410 476.5h2M412 475.5h2M414 474.5h2M416 473.5h2M418 472.5h2M502 403.5h42M543 403.5h3M546 402.5h5M551 401.5h6M557 400.5h5M562 399.5h5M567 398.5h5M572 397.5h6M578 396.5h5M583 395.5h3M585 395.5h2M587 394.5h2M589 393.5h3M592 392.5h2M594 391.5h3M597 390.5h3M600 389.5h2M602 388.5h3M605 387.5h2M607 386.5h3M610 385.5h2M612 384.5h3M615 383.5h3M618 382.5h2M620 381.5h3M623 380.5h2M625 379.5h2M626 379.5h2M628 378.5h2M630 377.5h2M632 376.5h3M635 375.5h2M637 374.5h2M639 373.5h3M642 372.5h2M644 371.5h2M646 370.5h3M649 369.5h2M651 368.5h2M653 367.5h3M656 366.5h2M658 365.5h2M660 364.5h3M663 363.5h2M665 362.5h2M667 361.5h2M668 361.5h1M669 360.5h2M671 359.5h1M672 358.5h2M674 357.5h1M675 356.5h2M677 355.5h1M678 354.5h2M680 353.5h1M681 352.5h2M683 351.5h1M684 350.5h2M686 349.5h1M687 348.5h2M689 347.5h2M691 346.5h1M692 345.5h2M694 344.5h1M695 343.5h2M697 342.5h1M698 341.5h2M700 340.5h1M701 339.5h2M703 338.5h1M704 337.5h2M706 336.5h1M707 335.5h2M709 334.5h1M709 334.5h1M710 333.5h2M712 332.5h1M713 331.5h2M715 330.5h1M716 329.5h2M718 328.5h1M719 327.5h1M720 326.5h2M722 325.5h1M723 324.5h2M725 323.5h1M726 322.5h2M728 321.5h1M729 320.5h2M731 319.5h1M732 318.5h2M734 317.5h1M735 316.5h2M737 315.5h1M738 314.5h2M740 313.5h1M741 312.5h1M742 311.5h2M744 310.5h1M745 309.5h2M747 308.5h1M748 307.5h2M750 306.5h1M750 306.5h2M752 305.5h3M755 304.5h4M759 303.5h3M762 302.5h3M765 301.5h3M768 300.5h4M772 299.5h3M775 298.5h3M778 297.5h3M781 296.5h3M784 295.5h4M788 294.5h3M791 293.5h2M792 293.5h2M794 292.5h2M796 291.5h2M798 290.5h2M800 289.5h2M802 288.5h2M804 287.5h2M806 286.5h2M808 285.5h2M810 284.5h2M812 283.5h2M814 282.5h2M816 281.5h2M818 280.5h2M820 279.5h2M822 278.5h2M824 277.5h2M826 276.5h2M828 275.5h2M830 274.5h2M832 273.5h2M833.5 272v2M834.5 270v2M835.5 268v2M836.5 266v2M837.5 264v2M838.5 262v2M839.5 260v2M840.5 258v2M841.5 256v2M842.5 254v2M843.5 252v2M844.5 250v2M845.5 248v2M846.5 246v2M847.5 243v3M848.5 241v2M849.5 239v2M850.5 237v2M851.5 235v2M852.5 233v2M853.5 231v2M854.5 229v2M855.5 227v2M856.5 225v2M857.5 223v2M858.5 221v2M859.5 219v2M860.5 217v2M861.5 214v3M862.5 212v2M863.5 210v2M864.5 208v2M865.5 206v2M866.5 204v2M867.5 202v2M868.5 200v2M869.5 198v2M870.5 196v2M871.5 194v2M872.5 192v2M873.5 190v2M874.5 188v2M875.5 186v2M875 186.5h1M876 185.5h1M877 184.5h2M879 183.5h1M880 182.5h1M881 181.5h2M883 180.5h1M884 179.5h1M885 178.5h2M887 177.5h1M888 176.5h1M889 175.5h2M891 174.5h1M892 173.5h1M893 172.5h2M895 171.5h1M896 170.5h1M897 169.5h2M899 168.5h1M900 167.5h1M901 166.5h2M903 165.5h1M904 164.5h1M905 163.5h2M907 162.5h1M908 161.5h1M909 160.5h2M911 159.5h1M912 158.5h1M913 157.5h2M915 156.5h1M916 155.5h1M916.5 155v1M917.5 154v1M918.5 153v1M919.5 151v2M920.5 150v1M921.5 149v1M922.5 148v1M923.5 147v1M924.5 145v2M925.5 144v1M926.5 143v1M927.5 142v1M928.5 141v1M929.5 139v2M930.5 138v1M931.5 137v1M932.5 136v1M933.5 135v1M934.5 133v2M935.5 132v1M936.5 131v1M937.5 130v1M938.5 129v1M939.5 128v1M940.5 126v2M941.5 125v1M942.5 124v1M943.5 123v1M944.5 122v1M945.5 120v2M946.5 119v1M947.5 118v1M948.5 117v1M949.5 116v1M950.5 114v2M951.5 113v1M952.5 112v1M953.5 111v1M954.5 110v1M955.5 108v2M956.5 107v1M957.5 106v1M958.5 105v1" fill="none" stroke="#808000" stroke-width="1" shape-rendering="crispEdges"/>
<g shape-rendering="crispEdges">
<path fill="#808000" d="M85 549h2v-1h1v1h2v2h1v1h-1v2h-2v1h-1v-1h-2v-2h-1v-1h1z"/>
<path fill="#808000" d="M127 549h2v-1h1v1h2v2h1v1h-1v2h-2v1h-1v-1h-2v-2h-1v-1h1z"/>
<path fill="#808000" d="M168 549h2v-1h1v1h2v2h1v1h-1v2h-2v1h-1v-1h-2v-2h-1v-1h1z"/>
<path fill="#808000" d="M210 549h2v-1h1v1h2v2h1v1h-1v2h-2v1h-1v-1h-2v-2h-1v-1h1z"/>
<path fill="#808000" d="M251 529h2v-1h1v1h2v2h1v1h-1v2h-2v1h-1v-1h-2v-2h-1v-1h1z"/>
<path fill="#808000" d="M293 510h2v-1h1v1h2v2h1v1h-1v2h-2v1h-1v-1h-2v-2h-1v-1h1z"/>
<path fill="#808000" d="M334 500h2v-1h1v1h2v2h1v1h-1v2h-2v1h-1v-1h-2v-2h-1v-1h1z"/>
<path fill="#808000" d="M375 490h2v-1h1v1h2v2h1v1h-1v2h-2v1h-1v-1h-2v-2h-1v-1h1z"/>
<path fill="#808000" d="M417 471h2v-1h1v1h2v2h1v1h-1v2h-2v1h-1v-1h-2v-2h-1v-1h1z"/>
<path fill="#808000" d="M500 402h2v-1h1v1h2v2h1v1h-1v2h-2v1h-1v-1h-2v-2h-1v-1h1z"/>
<path fill="#808000" d="M541 402h2v-1h1v1h2v2h1v1h-1v2h-2v1h-1v-1h-2v-2h-1v-1h1z"/>
<path fill="#808000" d="M583 394h2v-1h1v1h2v2h1v1h-1v2h-2v1h-1v-1h-2v-2h-1v-1h1z"/>
<path fill="#808000" d="M624 378h2v-1h1v1h2v2h1v1h-1v2h-2v1h-1v-1h-2v-2h-1v-1h1z"/>
<path fill="#808000" d="M666 360h2v-1h1v1h2v2h1v1h-1v2h-2v1h-1v-1h-2v-2h-1v-1h1z"/>
<path fill="#808000" d="M707 333h2v-1h1v1h2v2h1v1h-1v2h-2v1h-1v-1h-2v-2h-1v-1h1z"/>
<path fill="#808000" d="M748 305h2v-1h1v1h2v2h1v1h-1v2h-2v1h-1v-1h-2v-2h-1v-1h1z"/>
<path fill="#808000" d="M790 292h2v-1h1v1h2v2h1v1h-1v2h-2v1h-1v-1h-2v-2h-1v-1h1z"/>
<path fill="#808000" d="M831 272h2v-1h1v1h2v2h1v1h-1v2h-2v1h-1v-1h-2v-2h-1v-1h1z"/>
<path fill="#808000" d="M873 185h2v-1h1v1h2v2h1v1h-1v2h-2v1h-1v-1h-2v-2h-1v-1h1z"/>
<path fill="#808000" d="M914 154h2v-1h1v1h2v2h1v1h-1v2h-2v1h-1v-1h-2v-2h-1v-1h1z"/>
<path fill="#808000" d="M956 104h2v-1h1v1h2v2h1v1h-1v2h-2v1h-1v-1h-2v-2h-1v-1h1z"/>
</g>
</g>
<g id="s-Nor">
<path d="M87 555.5h43M129 555.5h3M132 556.5h4M136 557.5h4M140 558.5h4M144 559.5h4M148 560.5h4M152 561.5h4M156 562.5h4M160 563.5h4M164 564.5h4M168 565.5h3M170 565.5h43M212 565.5h2M214 564.5h2M216 563.5h2M218 562.5h2M220 561.5h3M223 560.5h2M225 559.5h2M227 558.5h3M230 557.5h2M232 556.5h2M234 555.5h2M236 554.5h3M239 553.5h2M241 552.5h2M243 551.5h3M246 550.5h2M248 549.5h2M250 548.5h2M252 547.5h2M253 547.5h1M254 546.5h2M256 545.5h2M258 544.5h2M260 543.5h2M262 542.5h2M264 541.5h1M265 540.5h2M267 539.5h2M269 538.5h2M271 537.5h2M273 536.5h2M275 535.5h1M276 534.5h2M278 533.5h2M280 532.5h2M282 531.5h2M284 530.5h1M285 529.5h2M287 528.5h2M289 527.5h2M291 526.5h2M293 525.5h2M295 524.5h1M295 524.5h3M298 523.5h5M303 522.5h5M308 521.5h5M313 520.5h6M319 519.5h5M324 518.5h5M329 517.5h5M334 516.5h3M336 516.5h2M338 515.5h4M342 514.5h4M346 513.5h4M350 512.5h3M353 511.5h4M357 510.5h4M361 509.5h3M364 508.5h4M368 507.5h4M372 506.5h4M376 505.5h2M377 505.5h2M379 504.5h2M381 503.5h3M384 502.5h3M387 501.5h2M389 500.5h3M392 499.5h3M395 498.5h2M397 497.5h3M400 496.5h2M402 495.5h3M405 494.5h3M408 493.5h2M410 492.5h3M413 491.5h3M416 490.5h2M418 489.5h2M419 489.5h2M421 488.5h3M424 487.5h3M427 486.5h4M431 485.5h3M434 484.5h3M437 483.5h3M440 482.5h3M443 481.5h3M446 480.5h3M449 479.5h4M453 478.5h3M456 477.5h3M459 476.5h2M460 476.5h2M462 475.5h2M464 474.5h3M467 473.5h3M470 472.5h2M472 471.5h3M475 470.5h3M478 469.5h2M480 468.5h3M483 467.5h2M485 466.5h3M488 465.5h3M491 464.5h2M493 463.5h3M496 462.5h3M499 461.5h2M501 460.5h2M502 460.5h1M503 459.5h1M504 458.5h2M506 457.5h1M507 456.5h1M508 455.5h2M510 454.5h1M511 453.5h1M512 452.5h2M514 451.5h1M515 450.5h1M516 449.5h2M518 448.5h1M519 447.5h1M520 446.5h2M522 445.5h1M523 444.5h1M524 443.5h2M526 442.5h1M527 441.5h1M528 440.5h2M530 439.5h1M531 438.5h1M532 437.5h2M534 436.5h1M535 435.5h1M536 434.5h2M538 433.5h1M539 432.5h1M540 431.5h2M542 430.5h1M543 429.5h1M543 429.5h2M545 428.5h2M547 427.5h3M550 426.5h2M552 425.5h3M555 424.5h2M557 423.5h3M560 422.5h2M562 421.5h3M565 420.5h2M567 419.5h2M569 418.5h3M572 417.5h2M574 416.5h3M577 415.5h2M579 414.5h3M582 413.5h2M584 412.5h2M585 412.5h2M587 411.5h3M590 410.5h2M592 409.5h3M595 408.5h3M598 407.5h3M601 406.5h2M603 405.5h3M606 404.5h3M609 403.5h2M611 402.5h3M614 401.5h3M617 400.5h3M620 399.5h2M622 398.5h3M625 397.5h2M626 397.5h2M628 396.5h2M630 395.5h2M632 394.5h2M634 393.5h2M636 392.5h3M639 391.5h2M641 390.5h2M643 389.5h2M645 388.5h3M648 387.5h2M650 386.5h2M652 385.5h2M654 384.5h2M656 383.5h3M659 382.5h2M661 381.5h2M663 380.5h2M665 379.5h2M667 378.5h2M668 378.5h1M669 377.5h2M671 376.5h1M672 375.5h2M674 374.5h1M675 373.5h2M677 372.5h1M678 371.5h2M680 370.5h1M681 369.5h2M683 368.5h1M684 367.5h2M686 366.5h1M687 365.5h2M689 364.5h2M691 363.5h1M692 362.5h2M694 361.5h1M695 360.5h2M697 359.5h1M698 358.5h2M700 357.5h1M701 356.5h2M703 355.5h1M704 354.5h2M706 353.5h1M707 352.5h2M709 351.5h1M709 351.5h1M710 350.5h2M712 349.5h1M713 348.5h2M715 347.5h1M716 346.5h2M718 345.5h1M719 344.5h2M721 343.5h1M722 342.5h2M724 341.5h1M725 340.5h2M727 339.5h1M728 338.5h2M730 337.5h2M732 336.5h1M733 335.5h2M735 334.5h1M736 333.5h2M738 332.5h1M739 331.5h2M741 330.5h1M742 329.5h2M744 328.5h1M745 327.5h2M747 326.5h1M748 325.5h2M750 324.5h1M750 324.5h2M752 323.5h3M755 322.5h4M759 321.5h3M762 320.5h3M765 319.5h3M768 318.5h4M772 317.5h3M775 316.5h3M778 315.5h3M781 314.5h3M784 313.5h4M788 312.5h3M791 311.5h2M792 311.5h42M833 311.5h1M834 310.5h2M836 309.5h2M838 308.5h1M839 307.5h2M841 306.5h2M843 305.5h1M844 304.5h2M846 303.5h2M848 302.5h1M849 301.5h2M851 300.5h2M853 299.5h2M855 298.5h1M856 297.5h2M858 296.5h2M860 295.5h1M861 294.5h2M863 293.5h2M865 292.5h1M866 291.5h2M868 290.5h2M870 289.5h1M871 288.5h2M873 287.5h2M875 286.5h1M875 286.5h42M916.5 286v1M917.5 284v2M918.5 282v2M919.5 280v2M920.5 278v2M921.5 276v2M922.5 274v2M923.5 272v2M924.5 270v2M925.5 268v2M926.5 266v2M927.5 264v2M928.5 262v2M929.5 260v2M930.5 259v1M931.5 257v2M932.5 255v2M933.5 253v2M934.5 251v2M935.5 249v2M936.5 247v2M937.5 245v2M938.5 243v2M939.5 241v2M940.5 239v2M941.5 237v2M942.5 235v2M943.5 233v2M944.5 232v1M945.5 230v2M946.5 228v2M947.5 226v2M948.5 224v2M949.5 222v2M950.5 220v2M951.5 218v2M952.5 216v2M953.5 214v2M954.5 212v2M955.5 210v2M956.5 208v2M957.5 206v2M958.5 205v1" fill="none" stroke="#ff00ff" stroke-width="1" shape-rendering="crispEdges"/>
<g shape-rendering="crispEdges">
<path fill="#ff00ff" d="M85 554h2v-1h1v1h2v2h1v1h-1v2h-2v1h-1v-1h-2v-2h-1v-1h1z"/>
<path fill="#ff00ff" d="M127 554h2v-1h1v1h2v2h1v1h-1v2h-2v1h-1v-1h-2v-2h-1v-1h1z"/>
<path fill="#ff00ff" d="M168 564h2v-1h1v1h2v2h1v1h-1v2h-2v1h-1v-1h-2v-2h-1v-1h1z"/>
<path fill="#ff00ff" d="M210 564h2v-1h1v1h2v2h1v1h-1v2h-2v1h-1v-1h-2v-2h-1v-1h1z"/>
<path fill="#ff00ff" d="M251 546h2v-1h1v1h2v2h1v1h-1v2h-2v1h-1v-1h-2v-2h-1v-1h1z"/>
<path fill="#ff00ff" d="M293 523h2v-1h1v1h2v2h1v1h-1v2h-2v1h-1v-1h-2v-2h-1v-1h1z"/>
<path fill="#ff00ff" d="M334 515h2v-1h1v1h2v2h1v1h-1v2h-2v1h-1v-1h-2v-2h-1v-1h1z"/>
<path fill="#ff00ff" d="M375 504h2v-1h1v1h2v2h1v1h-1v2h-2v1h-1v-1h-2v-2h-1v-1h1z"/>
<path fill="#ff00ff" d="M417 488h2v-1h1v1h2v2h1v1h-1v2h-2v1h-1v-1h-2v-2h-1v-1h1z"/>
<path fill="#ff00ff" d="M458 475h2v-1h1v1h2v2h1v1h-1v2h-2v1h-1v-1h-2v-2h-1v-1h1z"/>
<path fill="#ff00ff" d="M500 459h2v-1h1v1h2v2h1v1h-1v2h-2v1h-1v-1h-2v-2h-1v-1h1z"/>
<path fill="#ff00ff" d="M541 428h2v-1h1v1h2v2h1v1h-1v2h-2v1h-1v-1h-2v-2h-1v-1h1z"/>
<path fill="#ff00ff" d="M583 411h2v-1h1v1h2v2h1v1h-1v2h-2v1h-1v-1h-2v-2h-1v-1h1z"/>
<path fill="#ff00ff" d="M624 396h2v-1h1v1h2v2h1v1h-1v2h-2v1h-1v-1h-2v-2h-1v-1h1z"/>
<path fill="#ff00ff" d="M666 377h2v-1h1v1h2v2h1v1h-1v2h-2v1h-1v-1h-2v-2h-1v-1h1z"/>
<path fill="#ff00ff" d="M707 350h2v-1h1v1h2v2h1v1h-1v2h-2v1h-1v-1h-2v-2h-1v-1h1z"/>
<path fill="#ff00ff" d="M748 323h2v-1h1v1h2v2h1v1h-1v2h-2v1h-1v-1h-2v-2h-1v-1h1z"/>
<path fill="#ff00ff" d="M790 310h2v-1h1v1h2v2h1v1h-1v2h-2v1h-1v-1h-2v-2h-1v-1h1z"/>
<path fill="#ff00ff" d="M831 310h2v-1h1v1h2v2h1v1h-1v2h-2v1h-1v-1h-2v-2h-1v-1h1z"/>
<path fill="#ff00ff" d="M873 285h2v-1h1v1h2v2h1v1h-1v2h-2v1h-1v-1h-2v-2h-1v-1h1z"/>
<path fill="#ff00ff" d="M914 285h2v-1h1v1h2v2h1v1h-1v2h-2v1h-1v-1h-2v-2h-1v-1h1z"/>
<path fill="#ff00ff" d="M956 204h2v-1h1v1h2v2h1v1h-1v2h-2v1h-1v-1h-2v-2h-1v-1h1z"/>
</g>
</g>
<g id="s-Rhe">
<path d="M253 523.5h1M254 522.5h2M256 521.5h1M257 520.5h2M259 519.5h2M261 518.5h1M262 517.5h2M264 516.5h1M265 515.5h2M267 514.5h1M268 513.5h2M270 512.5h1M271 511.5h2M273 510.5h2M275 509.5h1M276 508.5h2M278 507.5h1M279 506.5h2M281 505.5h1M282 504.5h2M284 503.5h1M285 502.5h2M287 501.5h2M289 500.5h1M290 499.5h2M292 498.5h1M293 497.5h2M295 496.5h1M295 496.5h3M298 495.5h6M304 494.5h6M310 493.5h6M316 492.5h6M322 491.5h6M328 490.5h6M334 489.5h3M336 489.5h2M338 488.5h4M342 487.5h3M345 486.5h3M348 485.5h4M352 484.5h3M355 483.5h4M359 482.5h3M362 481.5h4M366 480.5h3M369 479.5h3M372 478.5h4M376 477.5h2M377 477.5h4M381 476.5h6M387 475.5h6M393 474.5h6M399 473.5h6M405 472.5h6M411 471.5h6M417 470.5h3M419 470.5h3M422 469.5h6M428 468.5h6M434 467.5h6M440 466.5h6M446 465.5h6M452 464.5h6M458 463.5h3M460 463.5h3M463 462.5h5M468 461.5h6M474 460.5h5M479 459.5h5M484 458.5h5M489 457.5h6M495 456.5h5M500 455.5h3M502 455.5h2M504 454.5h2M506 453.5h3M509 452.5h2M511 451.5h3M514 450.5h3M517 449.5h2M519 448.5h3M522 447.5h2M524 446.5h3M527 445.5h2M529 444.5h3M532 443.5h3M535 442.5h2M537 441.5h3M540 440.5h2M542 439.5h2M543 439.5h2M545 438.5h2M547 437.5h3M550 436.5h2M552 435.5h3M555 434.5h2M557 433.5h3M560 432.5h2M562 431.5h3M565 430.5h2M567 429.5h2M569 428.5h3M572 427.5h2M574 426.5h3M577 425.5h2M579 424.5h3M582 423.5h2M584 422.5h2M585 422.5h2M587 421.5h2M589 420.5h3M592 419.5h2M594 418.5h3M597 417.5h3M600 416.5h2M602 415.5h3M605 414.5h2M607 413.5h3M610 412.5h2M612 411.5h3M615 410.5h3M618 409.5h2M620 408.5h3M623 407.5h2M625 406.5h2M626 406.5h2M628 405.5h2M630 404.5h2M632 403.5h2M634 402.5h2M636 401.5h3M639 400.5h2M641 399.5h2M643 398.5h2M645 397.5h3M648 396.5h2M650 395.5h2M652 394.5h2M654 393.5h2M656 392.5h3M659 391.5h2M661 390.5h2M663 389.5h2M665 388.5h2M667 387.5h2M668.5 387v1M669.5 386v1M670.5 385v1M671.5 384v1M672.5 383v1M673.5 382v1M674.5 381v1M675.5 380v1M676.5 379v1M677.5 378v1M678.5 376v2M679.5 375v1M680.5 374v1M681.5 373v1M682.5 372v1M683.5 371v1M684.5 370v1M685.5 369v1M686.5 368v1M687.5 367v1M688.5 366v1M689.5 365v1M690.5 364v1M691.5 363v1M692.5 362v1M693.5 361v1M694.5 360v1M695.5 359v1M696.5 358v1M697.5 357v1M698.5 356v1M699.5 354v2M700.5 353v1M701.5 352v1M702.5 351v1M703.5 350v1M704.5 349v1M705.5 348v1M706.5 347v1M707.5 346v1M708.5 345v1M709.5 344v1M709.5 344v1M710.5 343v1M711.5 342v1M712.5 341v1M713.5 340v1M714.5 338v2M715.5 337v1M716.5 336v1M717.5 335v1M718.5 334v1M719.5 333v1M720.5 332v1M721.5 331v1M722.5 330v1M723.5 329v1M724.5 327v2M725.5 326v1M726.5 325v1M727.5 324v1M728.5 323v1M729.5 322v1M730.5 321v1M731.5 320v1M732.5 319v1M733.5 318v1M734.5 317v1M735.5 315v2M736.5 314v1M737.5 313v1M738.5 312v1M739.5 311v1M740.5 310v1M741.5 309v1M742.5 308v1M743.5 307v1M744.5 306v1M745.5 304v2M746.5 303v1M747.5 302v1M748.5 301v1M749.5 300v1M750.5 299v1M750 299.5h2M752 298.5h3M755 297.5h4M759 296.5h3M762 295.5h3M765 294.5h3M768 293.5h4M772 292.5h3M775 291.5h3M778 290.5h3M781 289.5h3M784 288.5h4M788 287.5h3M791 286.5h2M792 286.5h42M833 286.5h1M834 285.5h2M836 284.5h2M838 283.5h1M839 282.5h2M841 281.5h1M842 280.5h2M844 279.5h2M846 278.5h1M847 277.5h2M849 276.5h1M850 275.5h2M852 274.5h2M854 273.5h1M855 272.5h2M857 271.5h2M859 270.5h1M860 269.5h2M862 268.5h1M863 267.5h2M865 266.5h2M867 265.5h1M868 264.5h2M870 263.5h1M871 262.5h2M873 261.5h2M875 260.5h1M875 260.5h1M876 259.5h2M878 258.5h2M880 257.5h2M882 256.5h2M884 255.5h2M886 254.5h2M888 253.5h2M890 252.5h2M892 251.5h2M894 250.5h2M896 249.5h2M898 248.5h2M900 247.5h2M902 246.5h2M904 245.5h2M906 244.5h2M908 243.5h2M910 242.5h2M912 241.5h2M914 240.5h2M916 239.5h1M916.5 238v2M917.5 236v2M918.5 234v2M919.5 232v2M920.5 230v2M921.5 228v2M922.5 226v2M923.5 224v2M924.5 222v2M925.5 220v2M926.5 218v2M927.5 216v2M928.5 214v2M929.5 212v2M930.5 210v2M931.5 208v2M932.5 206v2M933.5 204v2M934.5 202v2M935.5 200v2M936.5 198v2M937.5 196v2M938.5 194v2M939.5 192v2M940.5 190v2M941.5 188v2M942.5 186v2M943.5 184v2M944.5 182v2M945.5 180v2M946.5 178v2M947.5 176v2M948.5 174v2M949.5 172v2M950.5 170v2M951.5 168v2M952.5 166v2M953.5 164v2M954.5 162v2M955.5 160v2M956.5 158v2M957.5 156v2M958.5 155v1" fill="none" stroke="#00ffff" stroke-width="1" shape-rendering="crispEdges"/>
<g shape-rendering="crispEdges">
<path fill="#00ffff" d="M251 522h2v-1h1v1h2v2h1v1h-1v2h-2v1h-1v-1h-2v-2h-1v-1h1z"/>
<path fill="#00ffff" d="M293 495h2v-1h1v1h2v2h1v1h-1v2h-2v1h-1v-1h-2v-2h-1v-1h1z"/>
<path fill="#00ffff" d="M334 488h2v-1h1v1h2v2h1v1h-1v2h-2v1h-1v-1h-2v-2h-1v-1h1z"/>
<path fill="#00ffff" d="M375 476h2v-1h1v1h2v2h1v1h-1v2h-2v1h-1v-1h-2v-2h-1v-1h1z"/>
<path fill="#00ffff" d="M417 469h2v-1h1v1h2v2h1v1h-1v2h-2v1h-1v-1h-2v-2h-1v-1h1z"/>
<path fill="#00ffff" d="M458 462h2v-1h1v1h2v2h1v1h-1v2h-2v1h-1v-1h-2v-2h-1v-1h1z"/>
<path fill="#00ffff" d="M500 454h2v-1h1v1h2v2h1v1h-1v2h-2v1h-1v-1h-2v-2h-1v-1h1z"/>
<path fill="#00ffff" d="M541 438h2v-1h1v1h2v2h1v1h-1v2h-2v1h-1v-1h-2v-2h-1v-1h1z"/>
<path fill="#00ffff" d="M583 421h2v-1h1v1h2v2h1v1h-1v2h-2v1h-1v-1h-2v-2h-1v-1h1z"/>
<path fill="#00ffff" d="M624 405h2v-1h1v1h2v2h1v1h-1v2h-2v1h-1v-1h-2v-2h-1v-1h1z"/>
<path fill="#00ffff" d="M666 386h2v-1h1v1h2v2h1v1h-1v2h-2v1h-1v-1h-2v-2h-1v-1h1z"/>
<path fill="#00ffff" d="M707 343h2v-1h1v1h2v2h1v1h-1v2h-2v1h-1v-1h-2v-2h-1v-1h1z"/>
<path fill="#00ffff" d="M748 298h2v-1h1v1h2v2h1v1h-1v2h-2v1h-1v-1h-2v-2h-1v-1h1z"/>
<path fill="#00ffff" d="M790 285h2v-1h1v1h2v2h1v1h-1v2h-2v1h-1v-1h-2v-2h-1v-1h1z"/>
<path fill="#00ffff" d="M831 285h2v-1h1v1h2v2h1v1h-1v2h-2v1h-1v-1h-2v-2h-1v-1h1z"/>
<path fill="#00ffff" d="M873 259h2v-1h1v1h2v2h1v1h-1v2h-2v1h-1v-1h-2v-2h-1v-1h1z"/>
<path fill="#00ffff" d="M914 238h2v-1h1v1h2v2h1v1h-1v2h-2v1h-1v-1h-2v-2h-1v-1h1z"/>
<path fill="#00ffff" d="M956 154h2v-1h1v1h2v2h1v1h-1v2h-2v1h-1v-1h-2v-2h-1v-1h1z"/>
</g>
</g>
<g id="s-Saa">
<path d="M253 553.5h1M254 552.5h2M256 551.5h2M258 550.5h1M259 549.5h2M261 548.5h2M263 547.5h1M264 546.5h2M266 545.5h2M268 544.5h1M269 543.5h2M271 542.5h2M273 541.5h2M275 540.5h1M276 539.5h2M278 538.5h2M280 537.5h1M281 536.5h2M283 535.5h2M285 534.5h1M286 533.5h2M288 532.5h2M290 531.5h1M291 530.5h2M293 529.5h2M295 528.5h1M295 528.5h3M298 527.5h5M303 526.5h5M308 525.5h5M313 524.5h6M319 523.5h5M324 522.5h5M329 521.5h5M334 520.5h3M336 520.5h42M377 520.5h2M379 519.5h3M382 518.5h3M385 517.5h3M388 516.5h3M391 515.5h3M394 514.5h3M397 513.5h3M400 512.5h3M403 511.5h3M406 510.5h3M409 509.5h3M412 508.5h3M415 507.5h3M418 506.5h2M419 506.5h2M421 505.5h2M423 504.5h3M426 503.5h2M428 502.5h3M431 501.5h3M434 500.5h2M436 499.5h3M439 498.5h2M441 497.5h3M444 496.5h2M446 495.5h3M449 494.5h3M452 493.5h2M454 492.5h3M457 491.5h2M459 490.5h2M460 490.5h2M462 489.5h3M465 488.5h4M469 487.5h3M472 486.5h3M475 485.5h3M478 484.5h4M482 483.5h3M485 482.5h3M488 481.5h3M491 480.5h3M494 479.5h4M498 478.5h3M501 477.5h2M502 477.5h2M504 476.5h3M507 475.5h3M510 474.5h4M514 473.5h3M517 472.5h3M520 471.5h3M523 470.5h3M526 469.5h3M529 468.5h3M532 467.5h4M536 466.5h3M539 465.5h3M542 464.5h2M543 464.5h43M585 464.5h1M586 463.5h1M587 462.5h2M589 461.5h1M590 460.5h1M591 459.5h2M593 458.5h1M594 457.5h1M595 456.5h2M597 455.5h1M598 454.5h1M599 453.5h2M601 452.5h1M602 451.5h1M603 450.5h2M605 449.5h1M606 448.5h1M607 447.5h2M609 446.5h1M610 445.5h1M611 444.5h2M613 443.5h1M614 442.5h1M615 441.5h2M617 440.5h1M618 439.5h1M619 438.5h2M621 437.5h1M622 436.5h1M623 435.5h2M625 434.5h1M626 433.5h1M626 433.5h2M628 432.5h2M630 431.5h2M632 430.5h3M635 429.5h2M637 428.5h2M639 427.5h3M642 426.5h2M644 425.5h2M646 424.5h3M649 423.5h2M651 422.5h2M653 421.5h3M656 420.5h2M658 419.5h2M660 418.5h3M663 417.5h2M665 416.5h2M667 415.5h2M668 415.5h1M669 414.5h2M671 413.5h2M673 412.5h1M674 411.5h2M676 410.5h2M678 409.5h1M679 408.5h2M681 407.5h1M682 406.5h2M684 405.5h2M686 404.5h1M687 403.5h2M689 402.5h2M691 401.5h1M692 400.5h2M694 399.5h2M696 398.5h1M697 397.5h2M699 396.5h1M700 395.5h2M702 394.5h2M704 393.5h1M705 392.5h2M707 391.5h2M709 390.5h1M709 390.5h1M710 389.5h2M712 388.5h1M713 387.5h2M715 386.5h2M717 385.5h1M718 384.5h2M720 383.5h1M721 382.5h2M723 381.5h1M724 380.5h2M726 379.5h2M728 378.5h1M729 377.5h2M731 376.5h1M732 375.5h2M734 374.5h2M736 373.5h1M737 372.5h2M739 371.5h1M740 370.5h2M742 369.5h1M743 368.5h2M745 367.5h2M747 366.5h1M748 365.5h2M750 364.5h1M750 364.5h2M752 363.5h3M755 362.5h3M758 361.5h3M761 360.5h3M764 359.5h3M767 358.5h3M770 357.5h3M773 356.5h3M776 355.5h3M779 354.5h3M782 353.5h3M785 352.5h3M788 351.5h3M791 350.5h2M792 350.5h42M833 350.5h1M834 349.5h2M836 348.5h2M838 347.5h2M840 346.5h1M841 345.5h2M843 344.5h2M845 343.5h2M847 342.5h1M848 341.5h2M850 340.5h2M852 339.5h2M854 338.5h1M855 337.5h2M857 336.5h2M859 335.5h2M861 334.5h1M862 333.5h2M864 332.5h2M866 331.5h2M868 330.5h1M869 329.5h2M871 328.5h2M873 327.5h2M875 326.5h1M875 326.5h42M916.5 326v1M917.5 324v2M918.5 322v2M919.5 320v2M920.5 318v2M921.5 316v2M922.5 314v2M923.5 312v2M924.5 310v2M925.5 308v2M926.5 306v2M927.5 305v1M928.5 303v2M929.5 301v2M930.5 299v2M931.5 297v2M932.5 295v2M933.5 293v2M934.5 291v2M935.5 289v2M936.5 287v2M937.5 286v1M938.5 284v2M939.5 282v2M940.5 280v2M941.5 278v2M942.5 276v2M943.5 274v2M944.5 272v2M945.5 270v2M946.5 268v2M947.5 266v2M948.5 265v1M949.5 263v2M950.5 261v2M951.5 259v2M952.5 257v2M953.5 255v2M954.5 253v2M955.5 251v2M956.5 249v2M957.5 247v2M958.5 246v1" fill="none" stroke="#ffa500" stroke-width="1" shape-rendering="crispEdges"/>
<g shape-rendering="crispEdges">
<path fill="#ffa500" d="M251 552h2v-1h1v1h2v2h1v1h-1v2h-2v1h-1v-1h-2v-2h-1v-1h1z"/>
<path fill="#ffa500" d="M293 527h2v-1h1v1h2v2h1v1h-1v2h-2v1h-1v-1h-2v-2h-1v-1h1z"/>
<path fill="#ffa500" d="M334 519h2v-1h1v1h2v2h1v1h-1v2h-2v1h-1v-1h-2v-2h-1v-1h1z"/>
<path fill="#ffa500" d="M375 519h2v-1h1v1h2v2h1v1h-1v2h-2v1h-1v-1h-2v-2h-1v-1h1z"/>
<path fill="#ffa500" d="M417 505h2v-1h1v1h2v2h1v1h-1v2h-2v1h-1v-1h-2v-2h-1v-1h1z"/>
<path fill="#ffa500" d="M458 489h2v-1h1v1h2v2h1v1h-1v2h-2v1h-1v-1h-2v-2h-1v-1h1z"/>
<path fill="#ffa500" d="M500 476h2v-1h1v1h2v2h1v1h-1v2h-2v1h-1v-1h-2v-2h-1v-1h1z"/>
<path fill="#ffa500" d="M541 463h2v-1h1v1h2v2h1v1h-1v2h-2v1h-1v-1h-2v-2h-1v-1h1z"/>
<path fill="#ffa500" d="M583 463h2v-1h1v1h2v2h1v1h-1v2h-2v1h-1v-1h-2v-2h-1v-1h1z"/>
<path fill="#ffa500" d="M624 432h2v-1h1v1h2v2h1v1h-1v2h-2v1h-1v-1h-2v-2h-1v-1h1z"/>
<path fill="#ffa500" d="M666 414h2v-1h1v1h2v2h1v1h-1v2h-2v1h-1v-1h-2v-2h-1v-1h1z"/>
<path fill="#ffa500" d="M707 389h2v-1h1v1h2v2h1v1h-1v2h-2v1h-1v-1h-2v-2h-1v-1h1z"/>
<path fill="#ffa500" d="M748 363h2v-1h1v1h2v2h1v1h-1v2h-2v1h-1v-1h-2v-2h-1v-1h1z"/>
<path fill="#ffa500" d="M790 349h2v-1h1v1h2v2h1v1h-1v2h-2v1h-1v-1h-2v-2h-1v-1h1z"/>
<path fill="#ffa500" d="M831 349h2v-1h1v1h2v2h1v1h-1v2h-2v1h-1v-1h-2v-2h-1v-1h1z"/>
<path fill="#ffa500" d="M873 325h2v-1h1v1h2v2h1v1h-1v2h-2v1h-1v-1h-2v-2h-1v-1h1z"/>
<path fill="#ffa500" d="M914 325h2v-1h1v1h2v2h1v1h-1v2h-2v1h-1v-1h-2v-2h-1v-1h1z"/>
<path fill="#ffa500" d="M956 245h2v-1h1v1h2v2h1v1h-1v2h-2v1h-1v-1h-2v-2h-1v-1h1z"/>
</g>
</g>
<g id="labels" filter="url(#crisp3)">
<text transform="translate(74 546) scale(1 1)" font-family='"Liberation Sans","DejaVu Sans",sans-serif' font-size="8.4" font-weight="bold" fill="#000080" letter-spacing="0.33" stroke="#000080" stroke-width="0.15">53655</text>
<text transform="translate(116 546) scale(1 1)" font-family='"Liberation Sans","DejaVu Sans",sans-serif' font-size="8.4" font-weight="bold" fill="#000080" letter-spacing="0.33" stroke="#000080" stroke-width="0.15">53655</text>
<text transform="translate(157 561) scale(1 1)" font-family='"Liberation Sans","DejaVu Sans",sans-serif' font-size="8.4" font-weight="bold" fill="#000080" letter-spacing="0.33" stroke="#000080" stroke-width="0.15">52378</text>
<text transform="translate(199 561) scale(1 1)" font-family='"Liberation Sans","DejaVu Sans",sans-serif' font-size="8.4" font-weight="bold" fill="#000080" letter-spacing="0.33" stroke="#000080" stroke-width="0.15">52378</text>
<text transform="translate(240 534) scale(1 1)" font-family='"Liberation Sans","DejaVu Sans",sans-serif' font-size="8.4" font-weight="bold" fill="#000080" letter-spacing="0.33" stroke="#000080" stroke-width="0.15">54635</text>
<text transform="translate(282 480) scale(1 1)" font-family='"Liberation Sans","DejaVu Sans",sans-serif' font-size="8.4" font-weight="bold" fill="#000080" letter-spacing="0.33" stroke="#000080" stroke-width="0.15">59058</text>
<text transform="translate(323 471) scale(1 1)" font-family='"Liberation Sans","DejaVu Sans",sans-serif' font-size="8.4" font-weight="bold" fill="#000080" letter-spacing="0.33" stroke="#000080" stroke-width="0.15">59767</text>
<text transform="translate(364 464) scale(1 1)" font-family='"Liberation Sans","DejaVu Sans",sans-serif' font-size="8.4" font-weight="bold" fill="#000080" letter-spacing="0.33" stroke="#000080" stroke-width="0.15">60306</text>
<text transform="translate(406 421) scale(1 1)" font-family='"Liberation Sans","DejaVu Sans",sans-serif' font-size="8.4" font-weight="bold" fill="#000080" letter-spacing="0.33" stroke="#000080" stroke-width="0.15">63816</text>
<text transform="translate(447 402) scale(1 1)" font-family='"Liberation Sans","DejaVu Sans",sans-serif' font-size="8.4" font-weight="bold" fill="#000080" letter-spacing="0.33" stroke="#000080" stroke-width="0.15">65357</text>
<text transform="translate(489 380) scale(1 1)" font-family='"Liberation Sans","DejaVu Sans",sans-serif' font-size="8.4" font-weight="bold" fill="#000080" letter-spacing="0.33" stroke="#000080" stroke-width="0.15">67167</text>
<text transform="translate(530 362) scale(1 1)" font-family='"Liberation Sans","DejaVu Sans",sans-serif' font-size="8.4" font-weight="bold" fill="#000080" letter-spacing="0.33" stroke="#000080" stroke-width="0.15">68665</text>
<text transform="translate(572 343) scale(1 1)" font-family='"Liberation Sans","DejaVu Sans",sans-serif' font-size="8.4" font-weight="bold" fill="#000080" letter-spacing="0.33" stroke="#000080" stroke-width="0.15">70176</text>
<text transform="translate(613 323) scale(1 1)" font-family='"Liberation Sans","DejaVu Sans",sans-serif' font-size="8.4" font-weight="bold" fill="#000080" letter-spacing="0.33" stroke="#000080" stroke-width="0.15">71825</text>
<text transform="translate(655 297) scale(1 1)" font-family='"Liberation Sans","DejaVu Sans",sans-serif' font-size="8.4" font-weight="bold" fill="#000080" letter-spacing="0.33" stroke="#000080" stroke-width="0.15">73978</text>
<text transform="translate(696 269) scale(1 1)" font-family='"Liberation Sans","DejaVu Sans",sans-serif' font-size="8.4" font-weight="bold" fill="#000080" letter-spacing="0.33" stroke="#000080" stroke-width="0.15">76256</text>
<text transform="translate(779 248) scale(1 1)" font-family='"Liberation Sans","DejaVu Sans",sans-serif' font-size="8.4" font-weight="bold" fill="#000080" letter-spacing="0.33" stroke="#000080" stroke-width="0.15">77991</text>
<text transform="translate(820 231) scale(1 1)" font-family='"Liberation Sans","DejaVu Sans",sans-serif' font-size="8.4" font-weight="bold" fill="#000080" letter-spacing="0.33" stroke="#000080" stroke-width="0.15">79395</text>
<text transform="translate(862 231) scale(1 1)" font-family='"Liberation Sans","DejaVu Sans",sans-serif' font-size="8.4" font-weight="bold" fill="#000080" letter-spacing="0.33" stroke="#000080" stroke-width="0.15">79395</text>
<text transform="translate(74 430) scale(1 1)" font-family='"Liberation Sans","DejaVu Sans",sans-serif' font-size="8.4" font-weight="bold" fill="#000080" letter-spacing="0.33" stroke="#000080" stroke-width="0.15">63133</text>
<text transform="translate(116 430) scale(1 1)" font-family='"Liberation Sans","DejaVu Sans",sans-serif' font-size="8.4" font-weight="bold" fill="#000080" letter-spacing="0.33" stroke="#000080" stroke-width="0.15">63133</text>
<text transform="translate(157 430) scale(1 1)" font-family='"Liberation Sans","DejaVu Sans",sans-serif' font-size="8.4" font-weight="bold" fill="#000080" letter-spacing="0.33" stroke="#000080" stroke-width="0.15">63133</text>
<text transform="translate(199 430) scale(1 1)" font-family='"Liberation Sans","DejaVu Sans",sans-serif' font-size="8.4" font-weight="bold" fill="#000080" letter-spacing="0.33" stroke="#000080" stroke-width="0.15">63133</text>
<text transform="translate(240 427) scale(1 1)" font-family='"Liberation Sans","DejaVu Sans",sans-serif' font-size="8.4" font-weight="bold" fill="#000080" letter-spacing="0.33" stroke="#000080" stroke-width="0.15">63374</text>
<text transform="translate(282 386) scale(1 1)" font-family='"Liberation Sans","DejaVu Sans",sans-serif' font-size="8.4" font-weight="bold" fill="#000080" letter-spacing="0.33" stroke="#000080" stroke-width="0.15">66684</text>
<text transform="translate(323 376) scale(1 1)" font-family='"Liberation Sans","DejaVu Sans",sans-serif' font-size="8.4" font-weight="bold" fill="#000080" letter-spacing="0.33" stroke="#000080" stroke-width="0.15">67484</text>
<text transform="translate(364 358) scale(1 1)" font-family='"Liberation Sans","DejaVu Sans",sans-serif' font-size="8.4" font-weight="bold" fill="#000080" letter-spacing="0.33" stroke="#000080" stroke-width="0.15">68965</text>
<text transform="translate(406 346) scale(1 1)" font-family='"Liberation Sans","DejaVu Sans",sans-serif' font-size="8.4" font-weight="bold" fill="#000080" letter-spacing="0.33" stroke="#000080" stroke-width="0.15">69997</text>
<text transform="translate(447 346) scale(1 1)" font-family='"Liberation Sans","DejaVu Sans",sans-serif' font-size="8.4" font-weight="bold" fill="#000080" letter-spacing="0.33" stroke="#000080" stroke-width="0.15">69997</text>
<text transform="translate(489 325) scale(1 1)" font-family='"Liberation Sans","DejaVu Sans",sans-serif' font-size="8.4" font-weight="bold" fill="#000080" letter-spacing="0.33" stroke="#000080" stroke-width="0.15">71712</text>
<text transform="translate(530 300) scale(1 1)" font-family='"Liberation Sans","DejaVu Sans",sans-serif' font-size="8.4" font-weight="bold" fill="#000080" letter-spacing="0.33" stroke="#000080" stroke-width="0.15">73684</text>
<text transform="translate(572 283) scale(1 1)" font-family='"Liberation Sans","DejaVu Sans",sans-serif' font-size="8.4" font-weight="bold" fill="#000080" letter-spacing="0.33" stroke="#000080" stroke-width="0.15">75084</text>
<text transform="translate(613 247) scale(1 1)" font-family='"Liberation Sans","DejaVu Sans",sans-serif' font-size="8.4" font-weight="bold" fill="#000080" letter-spacing="0.33" stroke="#000080" stroke-width="0.15">78041</text>
<text transform="translate(655 222) scale(1 1)" font-family='"Liberation Sans","DejaVu Sans",sans-serif' font-size="8.4" font-weight="bold" fill="#000080" letter-spacing="0.33" stroke="#000080" stroke-width="0.15">80128</text>
<text transform="translate(696 190) scale(1 1)" font-family='"Liberation Sans","DejaVu Sans",sans-serif' font-size="8.4" font-weight="bold" fill="#000080" letter-spacing="0.33" stroke="#000080" stroke-width="0.15">82692</text>
<text transform="translate(737 158) scale(1 1)" font-family='"Liberation Sans","DejaVu Sans",sans-serif' font-size="8.4" font-weight="bold" fill="#000080" letter-spacing="0.33" stroke="#000080" stroke-width="0.15">85338</text>
<text transform="translate(779 143) scale(1 1)" font-family='"Liberation Sans","DejaVu Sans",sans-serif' font-size="8.4" font-weight="bold" fill="#000080" letter-spacing="0.33" stroke="#000080" stroke-width="0.15">86533</text>
<text transform="translate(820 143) scale(1 1)" font-family='"Liberation Sans","DejaVu Sans",sans-serif' font-size="8.4" font-weight="bold" fill="#000080" letter-spacing="0.33" stroke="#000080" stroke-width="0.15">86533</text>
<text transform="translate(862 113) scale(1 1)" font-family='"Liberation Sans","DejaVu Sans",sans-serif' font-size="8.4" font-weight="bold" fill="#000080" letter-spacing="0.33" stroke="#000080" stroke-width="0.15">88956</text>
<text transform="translate(903 113) scale(1 1)" font-family='"Liberation Sans","DejaVu Sans",sans-serif' font-size="8.4" font-weight="bold" fill="#000080" letter-spacing="0.33" stroke="#000080" stroke-width="0.15">88956</text>
<text transform="translate(945 23) scale(1 1)" font-family='"Liberation Sans","DejaVu Sans",sans-serif' font-size="8.4" font-weight="bold" fill="#000080" letter-spacing="0.33" stroke="#000080" stroke-width="0.15">96381</text>
<text transform="translate(74 543) scale(1 1)" font-family='"Liberation Sans","DejaVu Sans",sans-serif' font-size="8.4" font-weight="bold" fill="#000080" letter-spacing="0.33" stroke="#000080" stroke-width="0.15">53868</text>
<text transform="translate(116 543) scale(1 1)" font-family='"Liberation Sans","DejaVu Sans",sans-serif' font-size="8.4" font-weight="bold" fill="#000080" letter-spacing="0.33" stroke="#000080" stroke-width="0.15">53868</text>
<text transform="translate(157 543) scale(1 1)" font-family='"Liberation Sans","DejaVu Sans",sans-serif' font-size="8.4" font-weight="bold" fill="#000080" letter-spacing="0.33" stroke="#000080" stroke-width="0.15">53868</text>
<text transform="translate(199 523) scale(1 1)" font-family='"Liberation Sans","DejaVu Sans",sans-serif' font-size="8.4" font-weight="bold" fill="#000080" letter-spacing="0.33" stroke="#000080" stroke-width="0.15">55484</text>
<text transform="translate(240 523) scale(1 1)" font-family='"Liberation Sans","DejaVu Sans",sans-serif' font-size="8.4" font-weight="bold" fill="#000080" letter-spacing="0.33" stroke="#000080" stroke-width="0.15">55484</text>
<text transform="translate(282 497) scale(1 1)" font-family='"Liberation Sans","DejaVu Sans",sans-serif' font-size="8.4" font-weight="bold" fill="#000080" letter-spacing="0.33" stroke="#000080" stroke-width="0.15">57670</text>
<text transform="translate(323 488) scale(1 1)" font-family='"Liberation Sans","DejaVu Sans",sans-serif' font-size="8.4" font-weight="bold" fill="#000080" letter-spacing="0.33" stroke="#000080" stroke-width="0.15">58382</text>
<text transform="translate(364 445) scale(1 1)" font-family='"Liberation Sans","DejaVu Sans",sans-serif' font-size="8.4" font-weight="bold" fill="#000080" letter-spacing="0.33" stroke="#000080" stroke-width="0.15">61908</text>
<text transform="translate(406 429) scale(1 1)" font-family='"Liberation Sans","DejaVu Sans",sans-serif' font-size="8.4" font-weight="bold" fill="#000080" letter-spacing="0.33" stroke="#000080" stroke-width="0.15">63209</text>
<text transform="translate(447 395) scale(1 1)" font-family='"Liberation Sans","DejaVu Sans",sans-serif' font-size="8.4" font-weight="bold" fill="#000080" letter-spacing="0.33" stroke="#000080" stroke-width="0.15">65951</text>
<text transform="translate(489 371) scale(1 1)" font-family='"Liberation Sans","DejaVu Sans",sans-serif' font-size="8.4" font-weight="bold" fill="#000080" letter-spacing="0.33" stroke="#000080" stroke-width="0.15">67897</text>
<text transform="translate(530 354) scale(1 1)" font-family='"Liberation Sans","DejaVu Sans",sans-serif' font-size="8.4" font-weight="bold" fill="#000080" letter-spacing="0.33" stroke="#000080" stroke-width="0.15">69323</text>
<text transform="translate(572 334) scale(1 1)" font-family='"Liberation Sans","DejaVu Sans",sans-serif' font-size="8.4" font-weight="bold" fill="#000080" letter-spacing="0.33" stroke="#000080" stroke-width="0.15">70917</text>
<text transform="translate(613 317) scale(1 1)" font-family='"Liberation Sans","DejaVu Sans",sans-serif' font-size="8.4" font-weight="bold" fill="#000080" letter-spacing="0.33" stroke="#000080" stroke-width="0.15">72336</text>
<text transform="translate(655 296) scale(1 1)" font-family='"Liberation Sans","DejaVu Sans",sans-serif' font-size="8.4" font-weight="bold" fill="#000080" letter-spacing="0.33" stroke="#000080" stroke-width="0.15">74076</text>
<text transform="translate(696 267) scale(1 1)" font-family='"Liberation Sans","DejaVu Sans",sans-serif' font-size="8.4" font-weight="bold" fill="#000080" letter-spacing="0.33" stroke="#000080" stroke-width="0.15">76405</text>
<text transform="translate(737 218) scale(1 1)" font-family='"Liberation Sans","DejaVu Sans",sans-serif' font-size="8.4" font-weight="bold" fill="#000080" letter-spacing="0.33" stroke="#000080" stroke-width="0.15">80407</text>
<text transform="translate(779 204) scale(1 1)" font-family='"Liberation Sans","DejaVu Sans",sans-serif' font-size="8.4" font-weight="bold" fill="#000080" letter-spacing="0.33" stroke="#000080" stroke-width="0.15">81533</text>
<text transform="translate(820 204) scale(1 1)" font-family='"Liberation Sans","DejaVu Sans",sans-serif' font-size="8.4" font-weight="bold" fill="#000080" letter-spacing="0.33" stroke="#000080" stroke-width="0.15">81533</text>
<text transform="translate(862 176) scale(1 1)" font-family='"Liberation Sans","DejaVu Sans",sans-serif' font-size="8.4" font-weight="bold" fill="#000080" letter-spacing="0.33" stroke="#000080" stroke-width="0.15">83816</text>
<text transform="translate(903 176) scale(1 1)" font-family='"Liberation Sans","DejaVu Sans",sans-serif' font-size="8.4" font-weight="bold" fill="#000080" letter-spacing="0.33" stroke="#000080" stroke-width="0.15">83816</text>
<text transform="translate(945 87) scale(1 1)" font-family='"Liberation Sans","DejaVu Sans",sans-serif' font-size="8.4" font-weight="bold" fill="#000080" letter-spacing="0.33" stroke="#000080" stroke-width="0.15">91095</text>
<text transform="translate(74 546) scale(1 1)" font-family='"Liberation Sans","DejaVu Sans",sans-serif' font-size="8.4" font-weight="bold" fill="#000080" letter-spacing="0.33" stroke="#000080" stroke-width="0.15">53655</text>
<text transform="translate(116 546) scale(1 1)" font-family='"Liberation Sans","DejaVu Sans",sans-serif' font-size="8.4" font-weight="bold" fill="#000080" letter-spacing="0.33" stroke="#000080" stroke-width="0.15">53655</text>
<text transform="translate(157 546) scale(1 1)" font-family='"Liberation Sans","DejaVu Sans",sans-serif' font-size="8.4" font-weight="bold" fill="#000080" letter-spacing="0.33" stroke="#000080" stroke-width="0.15">53655</text>
<text transform="translate(199 546) scale(1 1)" font-family='"Liberation Sans","DejaVu Sans",sans-serif' font-size="8.4" font-weight="bold" fill="#000080" letter-spacing="0.33" stroke="#000080" stroke-width="0.15">53655</text>
<text transform="translate(240 526) scale(1 1)" font-family='"Liberation Sans","DejaVu Sans",sans-serif' font-size="8.4" font-weight="bold" fill="#000080" letter-spacing="0.33" stroke="#000080" stroke-width="0.15">55266</text>
<text transform="translate(282 507) scale(1 1)" font-family='"Liberation Sans","DejaVu Sans",sans-serif' font-size="8.4" font-weight="bold" fill="#000080" letter-spacing="0.33" stroke="#000080" stroke-width="0.15">56823</text>
<text transform="translate(323 497) scale(1 1)" font-family='"Liberation Sans","DejaVu Sans",sans-serif' font-size="8.4" font-weight="bold" fill="#000080" letter-spacing="0.33" stroke="#000080" stroke-width="0.15">57606</text>
<text transform="translate(364 487) scale(1 1)" font-family='"Liberation Sans","DejaVu Sans",sans-serif' font-size="8.4" font-weight="bold" fill="#000080" letter-spacing="0.33" stroke="#000080" stroke-width="0.15">58470</text>
<text transform="translate(406 468) scale(1 1)" font-family='"Liberation Sans","DejaVu Sans",sans-serif' font-size="8.4" font-weight="bold" fill="#000080" letter-spacing="0.33" stroke="#000080" stroke-width="0.15">59994</text>
<text transform="translate(489 399) scale(1 1)" font-family='"Liberation Sans","DejaVu Sans",sans-serif' font-size="8.4" font-weight="bold" fill="#000080" letter-spacing="0.33" stroke="#000080" stroke-width="0.15">65611</text>
<text transform="translate(530 399) scale(1 1)" font-family='"Liberation Sans","DejaVu Sans",sans-serif' font-size="8.4" font-weight="bold" fill="#000080" letter-spacing="0.33" stroke="#000080" stroke-width="0.15">65611</text>
<text transform="translate(572 391) scale(1 1)" font-family='"Liberation Sans","DejaVu Sans",sans-serif' font-size="8.4" font-weight="bold" fill="#000080" letter-spacing="0.33" stroke="#000080" stroke-width="0.15">66268</text>
<text transform="translate(613 375) scale(1 1)" font-family='"Liberation Sans","DejaVu Sans",sans-serif' font-size="8.4" font-weight="bold" fill="#000080" letter-spacing="0.33" stroke="#000080" stroke-width="0.15">67593</text>
<text transform="translate(655 357) scale(1 1)" font-family='"Liberation Sans","DejaVu Sans",sans-serif' font-size="8.4" font-weight="bold" fill="#000080" letter-spacing="0.33" stroke="#000080" stroke-width="0.15">69080</text>
<text transform="translate(696 330) scale(1 1)" font-family='"Liberation Sans","DejaVu Sans",sans-serif' font-size="8.4" font-weight="bold" fill="#000080" letter-spacing="0.33" stroke="#000080" stroke-width="0.15">71291</text>
<text transform="translate(737 302) scale(1 1)" font-family='"Liberation Sans","DejaVu Sans",sans-serif' font-size="8.4" font-weight="bold" fill="#000080" letter-spacing="0.33" stroke="#000080" stroke-width="0.15">73572</text>
<text transform="translate(779 289) scale(1 1)" font-family='"Liberation Sans","DejaVu Sans",sans-serif' font-size="8.4" font-weight="bold" fill="#000080" letter-spacing="0.33" stroke="#000080" stroke-width="0.15">74602</text>
<text transform="translate(820 269) scale(1 1)" font-family='"Liberation Sans","DejaVu Sans",sans-serif' font-size="8.4" font-weight="bold" fill="#000080" letter-spacing="0.33" stroke="#000080" stroke-width="0.15">76243</text>
<text transform="translate(862 182) scale(1 1)" font-family='"Liberation Sans","DejaVu Sans",sans-serif' font-size="8.4" font-weight="bold" fill="#000080" letter-spacing="0.33" stroke="#000080" stroke-width="0.15">83369</text>
<text transform="translate(903 151) scale(1 1)" font-family='"Liberation Sans","DejaVu Sans",sans-serif' font-size="8.4" font-weight="bold" fill="#000080" letter-spacing="0.33" stroke="#000080" stroke-width="0.15">85871</text>
<text transform="translate(945 101) scale(1 1)" font-family='"Liberation Sans","DejaVu Sans",sans-serif' font-size="8.4" font-weight="bold" fill="#000080" letter-spacing="0.33" stroke="#000080" stroke-width="0.15">89992</text>
<text transform="translate(74 551) scale(1 1)" font-family='"Liberation Sans","DejaVu Sans",sans-serif' font-size="8.4" font-weight="bold" fill="#000080" letter-spacing="0.33" stroke="#000080" stroke-width="0.15">53229</text>
<text transform="translate(116 551) scale(1 1)" font-family='"Liberation Sans","DejaVu Sans",sans-serif' font-size="8.4" font-weight="bold" fill="#000080" letter-spacing="0.33" stroke="#000080" stroke-width="0.15">53229</text>
<text transform="translate(157 561) scale(1 1)" font-family='"Liberation Sans","DejaVu Sans",sans-serif' font-size="8.4" font-weight="bold" fill="#000080" letter-spacing="0.33" stroke="#000080" stroke-width="0.15">52378</text>
<text transform="translate(199 561) scale(1 1)" font-family='"Liberation Sans","DejaVu Sans",sans-serif' font-size="8.4" font-weight="bold" fill="#000080" letter-spacing="0.33" stroke="#000080" stroke-width="0.15">52378</text>
<text transform="translate(240 543) scale(1 1)" font-family='"Liberation Sans","DejaVu Sans",sans-serif' font-size="8.4" font-weight="bold" fill="#000080" letter-spacing="0.33" stroke="#000080" stroke-width="0.15">53897</text>
<text transform="translate(282 520) scale(1 1)" font-family='"Liberation Sans","DejaVu Sans",sans-serif' font-size="8.4" font-weight="bold" fill="#000080" letter-spacing="0.33" stroke="#000080" stroke-width="0.15">55767</text>
<text transform="translate(323 512) scale(1 1)" font-family='"Liberation Sans","DejaVu Sans",sans-serif' font-size="8.4" font-weight="bold" fill="#000080" letter-spacing="0.33" stroke="#000080" stroke-width="0.15">56436</text>
<text transform="translate(364 501) scale(1 1)" font-family='"Liberation Sans","DejaVu Sans",sans-serif' font-size="8.4" font-weight="bold" fill="#000080" letter-spacing="0.33" stroke="#000080" stroke-width="0.15">57283</text>
<text transform="translate(406 485) scale(1 1)" font-family='"Liberation Sans","DejaVu Sans",sans-serif' font-size="8.4" font-weight="bold" fill="#000080" letter-spacing="0.33" stroke="#000080" stroke-width="0.15">58580</text>
<text transform="translate(447 472) scale(1 1)" font-family='"Liberation Sans","DejaVu Sans",sans-serif' font-size="8.4" font-weight="bold" fill="#000080" letter-spacing="0.33" stroke="#000080" stroke-width="0.15">59711</text>
<text transform="translate(489 456) scale(1 1)" font-family='"Liberation Sans","DejaVu Sans",sans-serif' font-size="8.4" font-weight="bold" fill="#000080" letter-spacing="0.33" stroke="#000080" stroke-width="0.15">60979</text>
<text transform="translate(530 425) scale(1 1)" font-family='"Liberation Sans","DejaVu Sans",sans-serif' font-size="8.4" font-weight="bold" fill="#000080" letter-spacing="0.33" stroke="#000080" stroke-width="0.15">63528</text>
<text transform="translate(572 408) scale(1 1)" font-family='"Liberation Sans","DejaVu Sans",sans-serif' font-size="8.4" font-weight="bold" fill="#000080" letter-spacing="0.33" stroke="#000080" stroke-width="0.15">64862</text>
<text transform="translate(613 393) scale(1 1)" font-family='"Liberation Sans","DejaVu Sans",sans-serif' font-size="8.4" font-weight="bold" fill="#000080" letter-spacing="0.33" stroke="#000080" stroke-width="0.15">66159</text>
<text transform="translate(655 374) scale(1 1)" font-family='"Liberation Sans","DejaVu Sans",sans-serif' font-size="8.4" font-weight="bold" fill="#000080" letter-spacing="0.33" stroke="#000080" stroke-width="0.15">67714</text>
<text transform="translate(696 347) scale(1 1)" font-family='"Liberation Sans","DejaVu Sans",sans-serif' font-size="8.4" font-weight="bold" fill="#000080" letter-spacing="0.33" stroke="#000080" stroke-width="0.15">69881</text>
<text transform="translate(737 320) scale(1 1)" font-family='"Liberation Sans","DejaVu Sans",sans-serif' font-size="8.4" font-weight="bold" fill="#000080" letter-spacing="0.33" stroke="#000080" stroke-width="0.15">72117</text>
<text transform="translate(779 307) scale(1 1)" font-family='"Liberation Sans","DejaVu Sans",sans-serif' font-size="8.4" font-weight="bold" fill="#000080" letter-spacing="0.33" stroke="#000080" stroke-width="0.15">73127</text>
<text transform="translate(820 307) scale(1 1)" font-family='"Liberation Sans","DejaVu Sans",sans-serif' font-size="8.4" font-weight="bold" fill="#000080" letter-spacing="0.33" stroke="#000080" stroke-width="0.15">73127</text>
<text transform="translate(862 282) scale(1 1)" font-family='"Liberation Sans","DejaVu Sans",sans-serif' font-size="8.4" font-weight="bold" fill="#000080" letter-spacing="0.33" stroke="#000080" stroke-width="0.15">75174</text>
<text transform="translate(903 282) scale(1 1)" font-family='"Liberation Sans","DejaVu Sans",sans-serif' font-size="8.4" font-weight="bold" fill="#000080" letter-spacing="0.33" stroke="#000080" stroke-width="0.15">75174</text>
<text transform="translate(945 201) scale(1 1)" font-family='"Liberation Sans","DejaVu Sans",sans-serif' font-size="8.4" font-weight="bold" fill="#000080" letter-spacing="0.33" stroke="#000080" stroke-width="0.15">81841</text>
<text transform="translate(240 519) scale(1 1)" font-family='"Liberation Sans","DejaVu Sans",sans-serif' font-size="8.4" font-weight="bold" fill="#000080" letter-spacing="0.33" stroke="#000080" stroke-width="0.15">55831</text>
<text transform="translate(282 492) scale(1 1)" font-family='"Liberation Sans","DejaVu Sans",sans-serif' font-size="8.4" font-weight="bold" fill="#000080" letter-spacing="0.33" stroke="#000080" stroke-width="0.15">58040</text>
<text transform="translate(323 485) scale(1 1)" font-family='"Liberation Sans","DejaVu Sans",sans-serif' font-size="8.4" font-weight="bold" fill="#000080" letter-spacing="0.33" stroke="#000080" stroke-width="0.15">58606</text>
<text transform="translate(364 473) scale(1 1)" font-family='"Liberation Sans","DejaVu Sans",sans-serif' font-size="8.4" font-weight="bold" fill="#000080" letter-spacing="0.33" stroke="#000080" stroke-width="0.15">59577</text>
<text transform="translate(406 466) scale(1 1)" font-family='"Liberation Sans","DejaVu Sans",sans-serif' font-size="8.4" font-weight="bold" fill="#000080" letter-spacing="0.33" stroke="#000080" stroke-width="0.15">60172</text>
<text transform="translate(447 459) scale(1 1)" font-family='"Liberation Sans","DejaVu Sans",sans-serif' font-size="8.4" font-weight="bold" fill="#000080" letter-spacing="0.33" stroke="#000080" stroke-width="0.15">60774</text>
<text transform="translate(489 451) scale(1 1)" font-family='"Liberation Sans","DejaVu Sans",sans-serif' font-size="8.4" font-weight="bold" fill="#000080" letter-spacing="0.33" stroke="#000080" stroke-width="0.15">61382</text>
<text transform="translate(530 435) scale(1 1)" font-family='"Liberation Sans","DejaVu Sans",sans-serif' font-size="8.4" font-weight="bold" fill="#000080" letter-spacing="0.33" stroke="#000080" stroke-width="0.15">62671</text>
<text transform="translate(572 418) scale(1 1)" font-family='"Liberation Sans","DejaVu Sans",sans-serif' font-size="8.4" font-weight="bold" fill="#000080" letter-spacing="0.33" stroke="#000080" stroke-width="0.15">64112</text>
<text transform="translate(613 402) scale(1 1)" font-family='"Liberation Sans","DejaVu Sans",sans-serif' font-size="8.4" font-weight="bold" fill="#000080" letter-spacing="0.33" stroke="#000080" stroke-width="0.15">65395</text>
<text transform="translate(655 383) scale(1 1)" font-family='"Liberation Sans","DejaVu Sans",sans-serif' font-size="8.4" font-weight="bold" fill="#000080" letter-spacing="0.33" stroke="#000080" stroke-width="0.15">66931</text>
<text transform="translate(696 340) scale(1 1)" font-family='"Liberation Sans","DejaVu Sans",sans-serif' font-size="8.4" font-weight="bold" fill="#000080" letter-spacing="0.33" stroke="#000080" stroke-width="0.15">70455</text>
<text transform="translate(737 295) scale(1 1)" font-family='"Liberation Sans","DejaVu Sans",sans-serif' font-size="8.4" font-weight="bold" fill="#000080" letter-spacing="0.33" stroke="#000080" stroke-width="0.15">74164</text>
<text transform="translate(779 282) scale(1 1)" font-family='"Liberation Sans","DejaVu Sans",sans-serif' font-size="8.4" font-weight="bold" fill="#000080" letter-spacing="0.33" stroke="#000080" stroke-width="0.15">75202</text>
<text transform="translate(820 282) scale(1 1)" font-family='"Liberation Sans","DejaVu Sans",sans-serif' font-size="8.4" font-weight="bold" fill="#000080" letter-spacing="0.33" stroke="#000080" stroke-width="0.15">75202</text>
<text transform="translate(862 256) scale(1 1)" font-family='"Liberation Sans","DejaVu Sans",sans-serif' font-size="8.4" font-weight="bold" fill="#000080" letter-spacing="0.33" stroke="#000080" stroke-width="0.15">77307</text>
<text transform="translate(903 235) scale(1 1)" font-family='"Liberation Sans","DejaVu Sans",sans-serif' font-size="8.4" font-weight="bold" fill="#000080" letter-spacing="0.33" stroke="#000080" stroke-width="0.15">79042</text>
<text transform="translate(945 151) scale(1 1)" font-family='"Liberation Sans","DejaVu Sans",sans-serif' font-size="8.4" font-weight="bold" fill="#000080" letter-spacing="0.33" stroke="#000080" stroke-width="0.15">85921</text>
<text transform="translate(240 549) scale(1 1)" font-family='"Liberation Sans","DejaVu Sans",sans-serif' font-size="8.4" font-weight="bold" fill="#000080" letter-spacing="0.33" stroke="#000080" stroke-width="0.15">53382</text>
<text transform="translate(282 524) scale(1 1)" font-family='"Liberation Sans","DejaVu Sans",sans-serif' font-size="8.4" font-weight="bold" fill="#000080" letter-spacing="0.33" stroke="#000080" stroke-width="0.15">55454</text>
<text transform="translate(323 516) scale(1 1)" font-family='"Liberation Sans","DejaVu Sans",sans-serif' font-size="8.4" font-weight="bold" fill="#000080" letter-spacing="0.33" stroke="#000080" stroke-width="0.15">56119</text>
<text transform="translate(364 516) scale(1 1)" font-family='"Liberation Sans","DejaVu Sans",sans-serif' font-size="8.4" font-weight="bold" fill="#000080" letter-spacing="0.33" stroke="#000080" stroke-width="0.15">56119</text>
<text transform="translate(406 502) scale(1 1)" font-family='"Liberation Sans","DejaVu Sans",sans-serif' font-size="8.4" font-weight="bold" fill="#000080" letter-spacing="0.33" stroke="#000080" stroke-width="0.15">57186</text>
<text transform="translate(447 486) scale(1 1)" font-family='"Liberation Sans","DejaVu Sans",sans-serif' font-size="8.4" font-weight="bold" fill="#000080" letter-spacing="0.33" stroke="#000080" stroke-width="0.15">58501</text>
<text transform="translate(489 473) scale(1 1)" font-family='"Liberation Sans","DejaVu Sans",sans-serif' font-size="8.4" font-weight="bold" fill="#000080" letter-spacing="0.33" stroke="#000080" stroke-width="0.15">59554</text>
<text transform="translate(530 460) scale(1 1)" font-family='"Liberation Sans","DejaVu Sans",sans-serif' font-size="8.4" font-weight="bold" fill="#000080" letter-spacing="0.33" stroke="#000080" stroke-width="0.15">60686</text>
<text transform="translate(572 460) scale(1 1)" font-family='"Liberation Sans","DejaVu Sans",sans-serif' font-size="8.4" font-weight="bold" fill="#000080" letter-spacing="0.33" stroke="#000080" stroke-width="0.15">60686</text>
<text transform="translate(613 429) scale(1 1)" font-family='"Liberation Sans","DejaVu Sans",sans-serif' font-size="8.4" font-weight="bold" fill="#000080" letter-spacing="0.33" stroke="#000080" stroke-width="0.15">63199</text>
<text transform="translate(655 411) scale(1 1)" font-family='"Liberation Sans","DejaVu Sans",sans-serif' font-size="8.4" font-weight="bold" fill="#000080" letter-spacing="0.33" stroke="#000080" stroke-width="0.15">64621</text>
<text transform="translate(696 386) scale(1 1)" font-family='"Liberation Sans","DejaVu Sans",sans-serif' font-size="8.4" font-weight="bold" fill="#000080" letter-spacing="0.33" stroke="#000080" stroke-width="0.15">66689</text>
<text transform="translate(737 360) scale(1 1)" font-family='"Liberation Sans","DejaVu Sans",sans-serif' font-size="8.4" font-weight="bold" fill="#000080" letter-spacing="0.33" stroke="#000080" stroke-width="0.15">68823</text>
<text transform="translate(779 346) scale(1 1)" font-family='"Liberation Sans","DejaVu Sans",sans-serif' font-size="8.4" font-weight="bold" fill="#000080" letter-spacing="0.33" stroke="#000080" stroke-width="0.15">69993</text>
<text transform="translate(820 346) scale(1 1)" font-family='"Liberation Sans","DejaVu Sans",sans-serif' font-size="8.4" font-weight="bold" fill="#000080" letter-spacing="0.33" stroke="#000080" stroke-width="0.15">69993</text>
<text transform="translate(862 322) scale(1 1)" font-family='"Liberation Sans","DejaVu Sans",sans-serif' font-size="8.4" font-weight="bold" fill="#000080" letter-spacing="0.33" stroke="#000080" stroke-width="0.15">71953</text>
<text transform="translate(903 322) scale(1 1)" font-family='"Liberation Sans","DejaVu Sans",sans-serif' font-size="8.4" font-weight="bold" fill="#000080" letter-spacing="0.33" stroke="#000080" stroke-width="0.15">71953</text>
<text transform="translate(945 242) scale(1 1)" font-family='"Liberation Sans","DejaVu Sans",sans-serif' font-size="8.4" font-weight="bold" fill="#000080" letter-spacing="0.33" stroke="#000080" stroke-width="0.15">78442</text>
</g>
<g id="legend">
<rect x="87" y="594" width="13" height="2" fill="#ff0000" shape-rendering="crispEdges"/>
<g shape-rendering="crispEdges"><path fill="#ff0000" d="M91 593h2v-1h1v1h2v2h1v1h-1v2h-2v1h-1v-1h-2v-2h-1v-1h1z"/></g>
<g filter="url(#crisp)"><text transform="translate(103 598) scale(1.01 1)" font-family='"DejaVu Sans Mono","Liberation Mono",monospace' font-size="8.23" font-weight="bold" fill="#000080">Bund</text></g>
<rect x="206" y="594" width="13" height="2" fill="#00ff00" shape-rendering="crispEdges"/>
<g shape-rendering="crispEdges"><path fill="#00ff00" d="M210 593h2v-1h1v1h2v2h1v1h-1v2h-2v1h-1v-1h-2v-2h-1v-1h1z"/></g>
<g filter="url(#crisp)"><text transform="translate(222 598) scale(1.01 1)" font-family='"DejaVu Sans Mono","Liberation Mono",monospace' font-size="8.23" font-weight="bold" fill="#000080">Baden-Württemberg</text></g>
<rect x="325" y="594" width="13" height="2" fill="#0000ff" shape-rendering="crispEdges"/>
<g shape-rendering="crispEdges"><path fill="#0000ff" d="M329 593h2v-1h1v1h2v2h1v1h-1v2h-2v1h-1v-1h-2v-2h-1v-1h1z"/></g>
<g filter="url(#crisp)"><text transform="translate(341 598) scale(1.01 1)" font-family='"DejaVu Sans Mono","Liberation Mono",monospace' font-size="8.23" font-weight="bold" fill="#000080">Bayern</text></g>
<rect x="444" y="594" width="13" height="2" fill="#808000" shape-rendering="crispEdges"/>
<g shape-rendering="crispEdges"><path fill="#808000" d="M448 593h2v-1h1v1h2v2h1v1h-1v2h-2v1h-1v-1h-2v-2h-1v-1h1z"/></g>
<g filter="url(#crisp)"><text transform="translate(460 598) scale(1.01 1)" font-family='"DejaVu Sans Mono","Liberation Mono",monospace' font-size="8.23" font-weight="bold" fill="#000080">Hessen</text></g>
<rect x="563" y="594" width="13" height="2" fill="#ff00ff" shape-rendering="crispEdges"/>
<g shape-rendering="crispEdges"><path fill="#ff00ff" d="M567 593h2v-1h1v1h2v2h1v1h-1v2h-2v1h-1v-1h-2v-2h-1v-1h1z"/></g>
<g filter="url(#crisp)"><text transform="translate(579 598) scale(1.01 1)" font-family='"DejaVu Sans Mono","Liberation Mono",monospace' font-size="8.23" font-weight="bold" fill="#000080">Nordrhein-Westfalen</text></g>
<rect x="682" y="594" width="13" height="2" fill="#00ffff" shape-rendering="crispEdges"/>
<g shape-rendering="crispEdges"><path fill="#00ffff" d="M686 593h2v-1h1v1h2v2h1v1h-1v2h-2v1h-1v-1h-2v-2h-1v-1h1z"/></g>
<g filter="url(#crisp)"><text transform="translate(698 598) scale(1.01 1)" font-family='"DejaVu Sans Mono","Liberation Mono",monospace' font-size="8.23" font-weight="bold" fill="#000080">Rheinland-Pfalz</text></g>
<rect x="801" y="594" width="13" height="2" fill="#ffa500" shape-rendering="crispEdges"/>
<g shape-rendering="crispEdges"><path fill="#ffa500" d="M805 593h2v-1h1v1h2v2h1v1h-1v2h-2v1h-1v-1h-2v-2h-1v-1h1z"/></g>
<g filter="url(#crisp)"><text transform="translate(817 598) scale(1.01 1)" font-family='"DejaVu Sans Mono","Liberation Mono",monospace' font-size="8.23" font-weight="bold" fill="#000080">Saarland</text></g>
</g>
</svg></body></html>
